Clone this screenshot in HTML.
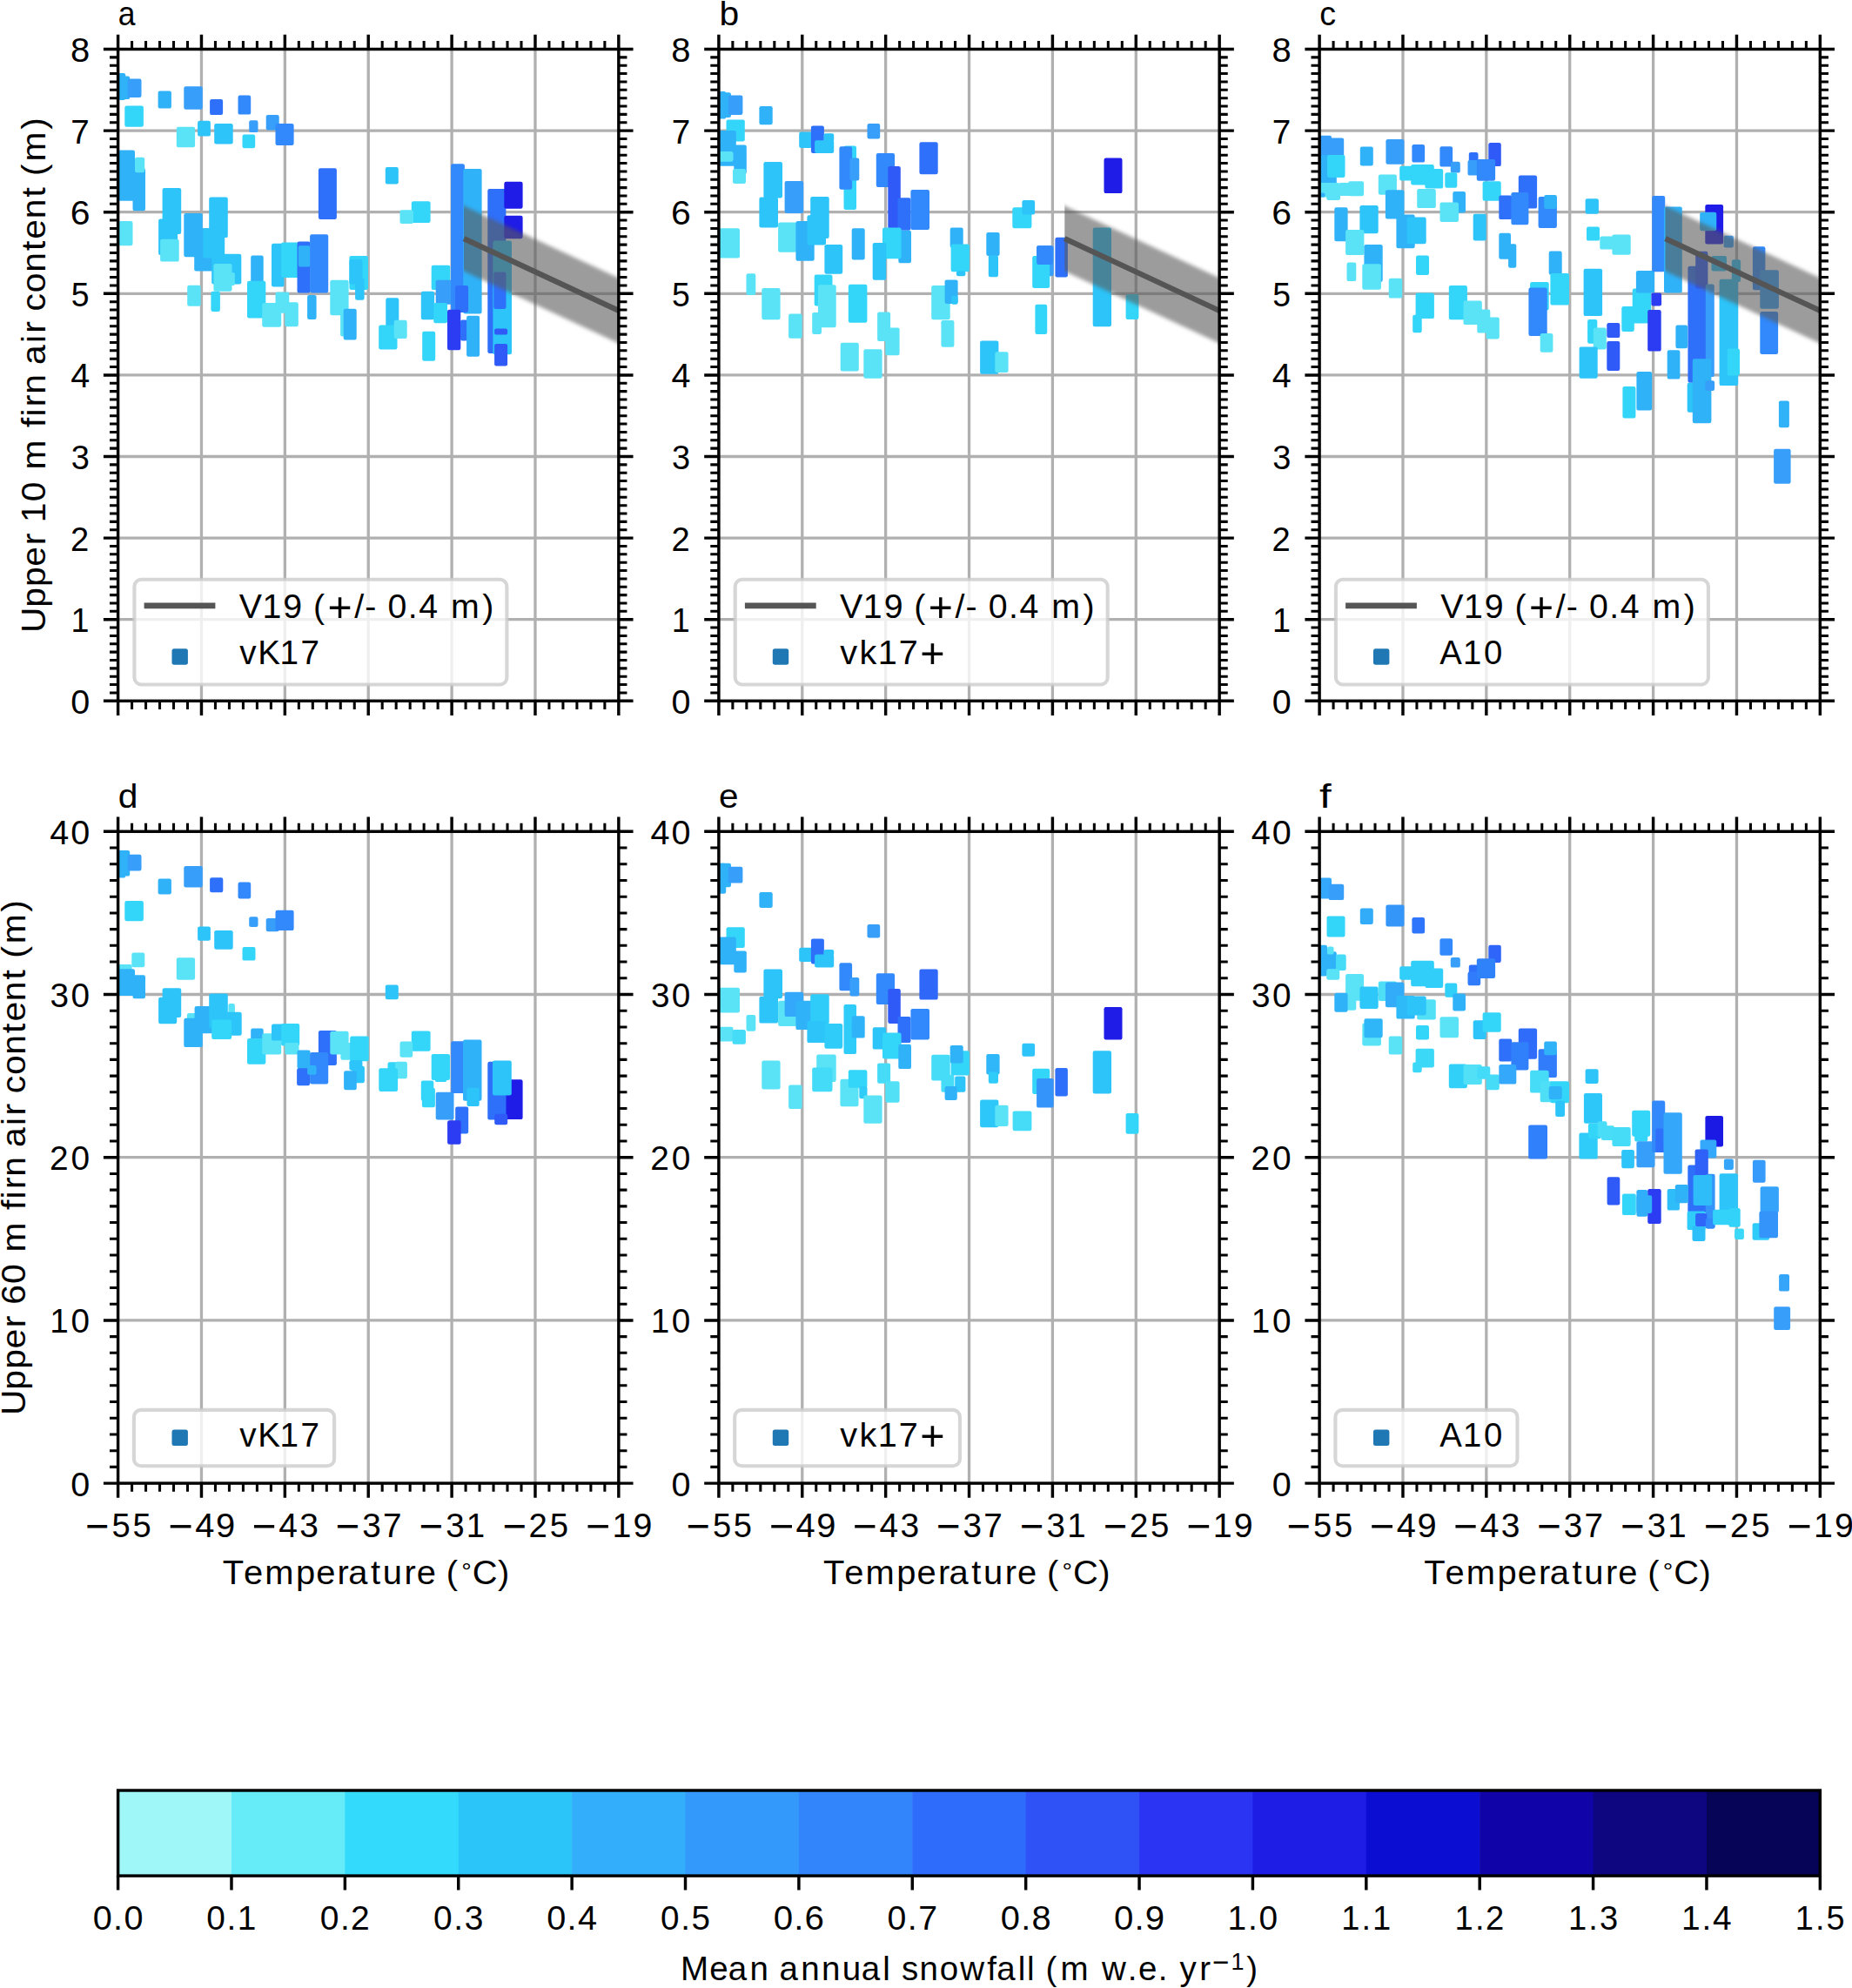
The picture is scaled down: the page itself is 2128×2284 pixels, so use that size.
<!DOCTYPE html>
<html><head><meta charset="utf-8"><title>Firn air content vs temperature</title>
<style>html,body{margin:0;padding:0;background:#fff}svg{display:block}text{font-family:"Liberation Sans", sans-serif;white-space:pre;font-kerning:none;font-variant-ligatures:none}</style>
</head><body>
<svg width="2128" height="2284" viewBox="0 0 2128 2284" font-family='"Liberation Sans", sans-serif' fill="#000">
<rect width="2128" height="2284" fill="#fff"/>
<defs><filter id="bl" x="-5%" y="-20%" width="110%" height="140%"><feGaussianBlur stdDeviation="2.2"/></filter>
<clipPath id="cpa"><rect x="135.60" y="56.50" width="575.25" height="748.80"/></clipPath>
<clipPath id="cpb"><rect x="825.90" y="56.50" width="575.25" height="748.80"/></clipPath>
<clipPath id="cpc"><rect x="1516.10" y="56.50" width="575.25" height="748.80"/></clipPath>
<clipPath id="cpd"><rect x="135.60" y="955.30" width="575.25" height="748.80"/></clipPath>
<clipPath id="cpe"><rect x="825.90" y="955.30" width="575.25" height="748.80"/></clipPath>
<clipPath id="cpf"><rect x="1516.10" y="955.30" width="575.25" height="748.80"/></clipPath>
</defs>
<g id="panel-a">
<path d="M231.47 56.50V805.30M327.35 56.50V805.30M423.23 56.50V805.30M519.10 56.50V805.30M614.98 56.50V805.30M135.60 711.70H710.85M135.60 618.10H710.85M135.60 524.50H710.85M135.60 430.90H710.85M135.60 337.30H710.85M135.60 243.70H710.85M135.60 150.10H710.85" stroke="#b0b0b0" stroke-width="3.3" fill="none"/>
<g clip-path="url(#cpa)">
<rect x="135.7" y="84.1" width="8.5" height="30.8" rx="2.2" fill="#30b2f9"/>
<rect x="135.7" y="87.5" width="13.5" height="26.6" rx="2.2" fill="#30b2f9"/>
<rect x="146.7" y="90.5" width="15.8" height="21.5" rx="2.2" fill="#379ffa"/>
<rect x="143.3" y="121.6" width="21.6" height="24.1" rx="2.2" fill="#33d5f9"/>
<rect x="181.6" y="104.5" width="15.3" height="20.1" rx="2.2" fill="#30b2f9"/>
<rect x="211.3" y="99.3" width="21.5" height="26.5" rx="2.2" fill="#379ffa"/>
<rect x="241.1" y="114.1" width="15.0" height="18.0" rx="2.2" fill="#2f70fb"/>
<rect x="273.5" y="109.6" width="14.7" height="22.0" rx="2.2" fill="#3189fb"/>
<rect x="305.7" y="131.9" width="15.0" height="17.5" rx="2.2" fill="#379ffa"/>
<rect x="316.5" y="141.9" width="21.1" height="25.0" rx="2.2" fill="#3189fb"/>
<rect x="286.2" y="138.3" width="10.3" height="13.8" rx="2.2" fill="#379ffa"/>
<rect x="227.1" y="138.8" width="14.8" height="17.8" rx="2.2" fill="#2cc4f9"/>
<rect x="246.2" y="142.1" width="21.5" height="23.3" rx="2.2" fill="#2cc4f9"/>
<rect x="202.8" y="145.7" width="21.3" height="23.6" rx="2.2" fill="#5ae3f6"/>
<rect x="278.5" y="154.6" width="14.7" height="15.7" rx="2.2" fill="#33d5f9"/>
<rect x="135.7" y="172.6" width="19.3" height="58.1" rx="2.2" fill="#30b2f9"/>
<rect x="152.5" y="193.2" width="14.5" height="49.1" rx="2.2" fill="#30b2f9"/>
<rect x="155.0" y="180.7" width="11.2" height="17.5" rx="2.2" fill="#5ae3f6"/>
<rect x="135.7" y="254.0" width="16.8" height="28.3" rx="2.2" fill="#5ae3f6"/>
<rect x="186.6" y="216.0" width="21.6" height="52.9" rx="2.2" fill="#2cc4f9"/>
<rect x="182.1" y="251.5" width="22.0" height="41.6" rx="2.2" fill="#2cc4f9"/>
<rect x="184.1" y="274.8" width="21.6" height="25.8" rx="2.2" fill="#5ae3f6"/>
<rect x="211.3" y="245.1" width="21.5" height="50.1" rx="2.2" fill="#30b2f9"/>
<rect x="240.2" y="226.5" width="21.6" height="46.6" rx="2.2" fill="#2cc4f9"/>
<rect x="223.2" y="262.3" width="21.6" height="49.1" rx="2.2" fill="#30b2f9"/>
<rect x="233.2" y="262.3" width="25.0" height="34.1" rx="2.2" fill="#2cc4f9"/>
<rect x="243.2" y="291.8" width="34.1" height="34.6" rx="2.2" fill="#2cc4f9"/>
<rect x="245.4" y="303.1" width="21.1" height="31.6" rx="2.2" fill="#5ae3f6"/>
<rect x="246.6" y="313.1" width="23.3" height="15.0" rx="2.2" fill="#5ae3f6"/>
<rect x="215.2" y="327.7" width="15.5" height="24.0" rx="2.2" fill="#5ae3f6"/>
<rect x="242.4" y="334.7" width="10.5" height="23.3" rx="2.2" fill="#33d5f9"/>
<rect x="288.2" y="293.6" width="14.5" height="39.5" rx="2.2" fill="#30b2f9"/>
<rect x="284.0" y="322.7" width="21.3" height="42.8" rx="2.2" fill="#33d5f9"/>
<rect x="301.2" y="348.0" width="22.0" height="27.8" rx="2.2" fill="#5ae3f6"/>
<rect x="316.5" y="335.6" width="15.8" height="24.1" rx="2.2" fill="#5ae3f6"/>
<rect x="327.3" y="347.2" width="15.5" height="28.0" rx="2.2" fill="#5ae3f6"/>
<rect x="312.0" y="279.8" width="14.5" height="49.6" rx="2.2" fill="#2cc4f9"/>
<rect x="323.1" y="278.6" width="21.6" height="40.3" rx="2.2" fill="#33d5f9"/>
<rect x="341.5" y="277.6" width="15.0" height="58.8" rx="2.2" fill="#2f70fb"/>
<rect x="342.8" y="282.3" width="13.7" height="24.1" rx="2.2" fill="#30b2f9"/>
<rect x="356.1" y="269.3" width="21.1" height="67.1" rx="2.2" fill="#3189fb"/>
<rect x="365.9" y="193.2" width="21.0" height="58.8" rx="2.2" fill="#2f70fb"/>
<rect x="353.1" y="338.9" width="10.5" height="28.0" rx="2.2" fill="#30b2f9"/>
<rect x="379.3" y="321.7" width="21.3" height="40.5" rx="2.2" fill="#5ae3f6"/>
<rect x="401.4" y="293.9" width="21.6" height="39.1" rx="2.2" fill="#33d5f9"/>
<rect x="401.4" y="298.1" width="15.0" height="28.3" rx="2.2" fill="#2cc4f9"/>
<rect x="408.1" y="319.7" width="10.5" height="25.0" rx="2.2" fill="#2cc4f9"/>
<rect x="391.1" y="356.4" width="15.3" height="30.0" rx="2.2" fill="#5ae3f6"/>
<rect x="394.7" y="354.7" width="15.0" height="35.8" rx="2.2" fill="#30b2f9"/>
<rect x="442.8" y="192.0" width="15.0" height="19.5" rx="2.2" fill="#2cc4f9"/>
<rect x="472.8" y="231.2" width="21.8" height="24.8" rx="2.2" fill="#33d5f9"/>
<rect x="459.5" y="241.2" width="15.5" height="15.8" rx="2.2" fill="#5ae3f6"/>
<rect x="495.7" y="304.8" width="21.6" height="28.3" rx="2.2" fill="#33d5f9"/>
<rect x="500.7" y="321.7" width="20.8" height="28.0" rx="2.2" fill="#379ffa"/>
<rect x="483.8" y="334.7" width="15.3" height="32.5" rx="2.2" fill="#2cc4f9"/>
<rect x="498.2" y="348.0" width="15.8" height="23.3" rx="2.2" fill="#33d5f9"/>
<rect x="443.3" y="342.2" width="15.0" height="34.1" rx="2.2" fill="#2cc4f9"/>
<rect x="435.2" y="373.5" width="21.3" height="28.0" rx="2.2" fill="#33d5f9"/>
<rect x="452.7" y="367.7" width="15.0" height="21.3" rx="2.2" fill="#5ae3f6"/>
<rect x="485.2" y="380.7" width="15.0" height="34.1" rx="2.2" fill="#33d5f9"/>
<rect x="518.1" y="188.2" width="15.8" height="168.3" rx="2.2" fill="#3189fb"/>
<rect x="532.3" y="194.1" width="21.3" height="166.3" rx="2.2" fill="#30b2f9"/>
<rect x="560.3" y="217.0" width="21.1" height="189.0" rx="2.2" fill="#2f70fb"/>
<rect x="566.4" y="276.6" width="21.6" height="130.7" rx="2.2" fill="#2cc4f9"/>
<rect x="567.3" y="312.4" width="14.2" height="42.5" rx="2.2" fill="#2f70fb"/>
<rect x="568.1" y="377.4" width="15.0" height="7.2" rx="2.2" fill="#2f5af7"/>
<rect x="568.1" y="394.9" width="15.0" height="25.5" rx="2.2" fill="#2f5af7"/>
<rect x="579.3" y="208.7" width="21.3" height="31.1" rx="2.2" fill="#1f1ce8"/>
<rect x="579.3" y="247.7" width="21.3" height="26.6" rx="2.2" fill="#1f1ce8"/>
<rect x="523.1" y="327.9" width="15.0" height="31.1" rx="2.2" fill="#2f70fb"/>
<rect x="514.0" y="355.7" width="15.3" height="46.6" rx="2.2" fill="#2b3cf3"/>
<rect x="529.0" y="367.4" width="8.3" height="24.1" rx="2.2" fill="#2f70fb"/>
<rect x="536.1" y="362.7" width="15.0" height="47.1" rx="2.2" fill="#30b2f9"/>
<clipPath id="bca"><rect x="533.00" y="56.50" width="177.85" height="748.80"/></clipPath>
<g clip-path="url(#bca)"><polygon points="513.00,227.30 718.85,323.16 718.85,398.16 513.00,302.30" fill="#5a5a5a" opacity="0.6" filter="url(#bl)"/></g>
<line x1="533.00" y1="274.12" x2="710.85" y2="356.96" stroke="#555" stroke-width="6.2"/>
</g>
<rect x="154.40" y="665.80" width="428.00" height="120.70" rx="8" fill="#fff" fill-opacity="0.8" stroke="#ccc" stroke-opacity="0.8" stroke-width="4.1"/>
<line x1="165.60" y1="695.90" x2="247.40" y2="695.90" stroke="#555" stroke-width="6.6"/>
<text transform="translate(275.00 709.70) scale(0.9975 1)" x="-0.29 26.51 50.51 73.56 85.29 101.83 132.54 144.57 157.91 170.85 194.26 206.72 229.65 243.60 279.99" y="0"><tspan font-size="39.40" dy="0.00">V19 (</tspan><tspan font-size="48.30" dy="4.30">+</tspan><tspan font-size="39.40" dy="-4.30">/- 0.4 m)</tspan></text>
<rect x="197.50" y="745.30" width="18.4" height="18.4" rx="2.5" fill="#1f77b4"/>
<text transform="translate(273.80 762.80) scale(0.9815 1)" x="1.46 22.88 48.66 73.08" y="0"><tspan font-size="39.40" dy="0.00">vK17</tspan></text>
<rect x="135.60" y="56.50" width="575.25" height="748.80" fill="none" stroke="#000" stroke-width="3.45"/>
<path d="M135.60 56.50v-16.7M135.60 805.30v16.7M231.47 56.50v-16.7M231.47 805.30v16.7M327.35 56.50v-16.7M327.35 805.30v16.7M423.23 56.50v-16.7M423.23 805.30v16.7M519.10 56.50v-16.7M519.10 805.30v16.7M614.98 56.50v-16.7M614.98 805.30v16.7M710.85 56.50v-16.7M710.85 805.30v16.7M135.60 805.30h-16.7M710.85 805.30h16.7M135.60 711.70h-16.7M710.85 711.70h16.7M135.60 618.10h-16.7M710.85 618.10h16.7M135.60 524.50h-16.7M710.85 524.50h16.7M135.60 430.90h-16.7M710.85 430.90h16.7M135.60 337.30h-16.7M710.85 337.30h16.7M135.60 243.70h-16.7M710.85 243.70h16.7M135.60 150.10h-16.7M710.85 150.10h16.7M135.60 56.50h-16.7M710.85 56.50h16.7" stroke="#000" stroke-width="3.45" fill="none"/>
<path d="M151.58 56.50v-9.6M151.58 805.30v9.6M167.56 56.50v-9.6M167.56 805.30v9.6M183.54 56.50v-9.6M183.54 805.30v9.6M199.52 56.50v-9.6M199.52 805.30v9.6M215.50 56.50v-9.6M215.50 805.30v9.6M247.45 56.50v-9.6M247.45 805.30v9.6M263.43 56.50v-9.6M263.43 805.30v9.6M279.41 56.50v-9.6M279.41 805.30v9.6M295.39 56.50v-9.6M295.39 805.30v9.6M311.37 56.50v-9.6M311.37 805.30v9.6M343.33 56.50v-9.6M343.33 805.30v9.6M359.31 56.50v-9.6M359.31 805.30v9.6M375.29 56.50v-9.6M375.29 805.30v9.6M391.27 56.50v-9.6M391.27 805.30v9.6M407.25 56.50v-9.6M407.25 805.30v9.6M439.20 56.50v-9.6M439.20 805.30v9.6M455.18 56.50v-9.6M455.18 805.30v9.6M471.16 56.50v-9.6M471.16 805.30v9.6M487.14 56.50v-9.6M487.14 805.30v9.6M503.12 56.50v-9.6M503.12 805.30v9.6M535.08 56.50v-9.6M535.08 805.30v9.6M551.06 56.50v-9.6M551.06 805.30v9.6M567.04 56.50v-9.6M567.04 805.30v9.6M583.02 56.50v-9.6M583.02 805.30v9.6M599.00 56.50v-9.6M599.00 805.30v9.6M630.95 56.50v-9.6M630.95 805.30v9.6M646.93 56.50v-9.6M646.93 805.30v9.6M662.91 56.50v-9.6M662.91 805.30v9.6M678.89 56.50v-9.6M678.89 805.30v9.6M694.87 56.50v-9.6M694.87 805.30v9.6M135.60 795.94h-9.6M710.85 795.94h9.6M135.60 786.58h-9.6M710.85 786.58h9.6M135.60 777.22h-9.6M710.85 777.22h9.6M135.60 767.86h-9.6M710.85 767.86h9.6M135.60 758.50h-9.6M710.85 758.50h9.6M135.60 749.14h-9.6M710.85 749.14h9.6M135.60 739.78h-9.6M710.85 739.78h9.6M135.60 730.42h-9.6M710.85 730.42h9.6M135.60 721.06h-9.6M710.85 721.06h9.6M135.60 702.34h-9.6M710.85 702.34h9.6M135.60 692.98h-9.6M710.85 692.98h9.6M135.60 683.62h-9.6M710.85 683.62h9.6M135.60 674.26h-9.6M710.85 674.26h9.6M135.60 664.90h-9.6M710.85 664.90h9.6M135.60 655.54h-9.6M710.85 655.54h9.6M135.60 646.18h-9.6M710.85 646.18h9.6M135.60 636.82h-9.6M710.85 636.82h9.6M135.60 627.46h-9.6M710.85 627.46h9.6M135.60 608.74h-9.6M710.85 608.74h9.6M135.60 599.38h-9.6M710.85 599.38h9.6M135.60 590.02h-9.6M710.85 590.02h9.6M135.60 580.66h-9.6M710.85 580.66h9.6M135.60 571.30h-9.6M710.85 571.30h9.6M135.60 561.94h-9.6M710.85 561.94h9.6M135.60 552.58h-9.6M710.85 552.58h9.6M135.60 543.22h-9.6M710.85 543.22h9.6M135.60 533.86h-9.6M710.85 533.86h9.6M135.60 515.14h-9.6M710.85 515.14h9.6M135.60 505.78h-9.6M710.85 505.78h9.6M135.60 496.42h-9.6M710.85 496.42h9.6M135.60 487.06h-9.6M710.85 487.06h9.6M135.60 477.70h-9.6M710.85 477.70h9.6M135.60 468.34h-9.6M710.85 468.34h9.6M135.60 458.98h-9.6M710.85 458.98h9.6M135.60 449.62h-9.6M710.85 449.62h9.6M135.60 440.26h-9.6M710.85 440.26h9.6M135.60 421.54h-9.6M710.85 421.54h9.6M135.60 412.18h-9.6M710.85 412.18h9.6M135.60 402.82h-9.6M710.85 402.82h9.6M135.60 393.46h-9.6M710.85 393.46h9.6M135.60 384.10h-9.6M710.85 384.10h9.6M135.60 374.74h-9.6M710.85 374.74h9.6M135.60 365.38h-9.6M710.85 365.38h9.6M135.60 356.02h-9.6M710.85 356.02h9.6M135.60 346.66h-9.6M710.85 346.66h9.6M135.60 327.94h-9.6M710.85 327.94h9.6M135.60 318.58h-9.6M710.85 318.58h9.6M135.60 309.22h-9.6M710.85 309.22h9.6M135.60 299.86h-9.6M710.85 299.86h9.6M135.60 290.50h-9.6M710.85 290.50h9.6M135.60 281.14h-9.6M710.85 281.14h9.6M135.60 271.78h-9.6M710.85 271.78h9.6M135.60 262.42h-9.6M710.85 262.42h9.6M135.60 253.06h-9.6M710.85 253.06h9.6M135.60 234.34h-9.6M710.85 234.34h9.6M135.60 224.98h-9.6M710.85 224.98h9.6M135.60 215.62h-9.6M710.85 215.62h9.6M135.60 206.26h-9.6M710.85 206.26h9.6M135.60 196.90h-9.6M710.85 196.90h9.6M135.60 187.54h-9.6M710.85 187.54h9.6M135.60 178.18h-9.6M710.85 178.18h9.6M135.60 168.82h-9.6M710.85 168.82h9.6M135.60 159.46h-9.6M710.85 159.46h9.6M135.60 140.74h-9.6M710.85 140.74h9.6M135.60 131.38h-9.6M710.85 131.38h9.6M135.60 122.02h-9.6M710.85 122.02h9.6M135.60 112.66h-9.6M710.85 112.66h9.6M135.60 103.30h-9.6M710.85 103.30h9.6M135.60 93.94h-9.6M710.85 93.94h9.6M135.60 84.58h-9.6M710.85 84.58h9.6M135.60 75.22h-9.6M710.85 75.22h9.6M135.60 65.86h-9.6M710.85 65.86h9.6" stroke="#000" stroke-width="3.05" fill="none"/>
<text transform="translate(104.10 819.80) scale(1.0033 1)" x="-22.86" y="0"><tspan font-size="39.40" dy="0.00">0</tspan></text>
<text transform="translate(104.10 726.20) scale(0.9582 1)" x="-23.60" y="0"><tspan font-size="39.40" dy="0.00">1</tspan></text>
<text transform="translate(104.10 632.60) scale(0.9671 1)" x="-23.81" y="0"><tspan font-size="39.40" dy="0.00">2</tspan></text>
<text transform="translate(104.10 539.00) scale(0.9635 1)" x="-23.30" y="0"><tspan font-size="39.40" dy="0.00">3</tspan></text>
<text transform="translate(104.10 445.40) scale(1.0034 1)" x="-22.86" y="0"><tspan font-size="39.40" dy="0.00">4</tspan></text>
<text transform="translate(104.10 351.80) scale(0.9469 1)" x="-23.72" y="0"><tspan font-size="39.40" dy="0.00">5</tspan></text>
<text transform="translate(104.10 258.20) scale(1.0384 1)" x="-22.46" y="0"><tspan font-size="39.40" dy="0.00">6</tspan></text>
<text transform="translate(104.10 164.60) scale(0.9814 1)" x="-23.20" y="0"><tspan font-size="39.40" dy="0.00">7</tspan></text>
<text transform="translate(104.10 71.00) scale(1.0142 1)" x="-22.73" y="0"><tspan font-size="39.40" dy="0.00">8</tspan></text>
<text transform="translate(135.40 28.90) scale(0.9000 1)" x="0.33" y="0"><tspan font-size="39.40" dy="0.00">a</tspan></text>
</g>
<g id="panel-b">
<path d="M921.77 56.50V805.30M1017.65 56.50V805.30M1113.53 56.50V805.30M1209.40 56.50V805.30M1305.28 56.50V805.30M825.90 711.70H1401.15M825.90 618.10H1401.15M825.90 524.50H1401.15M825.90 430.90H1401.15M825.90 337.30H1401.15M825.90 243.70H1401.15M825.90 150.10H1401.15" stroke="#b0b0b0" stroke-width="3.3" fill="none"/>
<g clip-path="url(#cpb)">
<rect x="826.0" y="105.0" width="8.2" height="31.6" rx="2.2" fill="#30b2f9"/>
<rect x="826.0" y="106.3" width="14.0" height="28.6" rx="2.2" fill="#30b2f9"/>
<rect x="836.7" y="109.5" width="16.7" height="22.5" rx="2.2" fill="#379ffa"/>
<rect x="872.4" y="122.1" width="15.3" height="21.1" rx="2.2" fill="#30b2f9"/>
<rect x="834.5" y="137.4" width="21.3" height="25.0" rx="2.2" fill="#33d5f9"/>
<rect x="826.0" y="149.9" width="19.8" height="40.8" rx="2.2" fill="#30b2f9"/>
<rect x="843.3" y="166.6" width="14.5" height="33.3" rx="2.2" fill="#30b2f9"/>
<rect x="826.0" y="174.1" width="16.5" height="11.7" rx="2.2" fill="#5ae3f6"/>
<rect x="842.0" y="194.0" width="15.0" height="17.0" rx="2.2" fill="#5ae3f6"/>
<rect x="826.0" y="262.3" width="24.0" height="34.1" rx="2.2" fill="#5ae3f6"/>
<rect x="857.5" y="314.3" width="10.8" height="24.6" rx="2.2" fill="#5ae3f6"/>
<rect x="875.3" y="331.1" width="21.3" height="36.1" rx="2.2" fill="#5ae3f6"/>
<rect x="877.4" y="186.1" width="21.6" height="41.3" rx="2.2" fill="#2cc4f9"/>
<rect x="872.4" y="226.5" width="21.6" height="35.0" rx="2.2" fill="#2cc4f9"/>
<rect x="901.6" y="207.9" width="21.6" height="37.0" rx="2.2" fill="#379ffa"/>
<rect x="894.1" y="255.6" width="21.6" height="34.1" rx="2.2" fill="#5ae3f6"/>
<rect x="914.4" y="254.0" width="21.3" height="45.8" rx="2.2" fill="#30b2f9"/>
<rect x="931.2" y="226.0" width="21.5" height="48.0" rx="2.2" fill="#2cc4f9"/>
<rect x="927.4" y="247.3" width="21.6" height="34.1" rx="2.2" fill="#2cc4f9"/>
<rect x="947.4" y="281.1" width="20.8" height="33.6" rx="2.2" fill="#2cc4f9"/>
<rect x="918.2" y="151.6" width="15.0" height="18.3" rx="2.2" fill="#2cc4f9"/>
<rect x="931.9" y="144.4" width="15.0" height="31.6" rx="2.2" fill="#2f70fb"/>
<rect x="936.1" y="161.2" width="22.1" height="14.8" rx="2.2" fill="#2cc4f9"/>
<rect x="946.5" y="153.3" width="11.7" height="10.0" rx="2.2" fill="#2cc4f9"/>
<rect x="996.5" y="141.9" width="14.7" height="17.5" rx="2.2" fill="#379ffa"/>
<rect x="969.5" y="167.4" width="14.5" height="73.6" rx="2.2" fill="#33d5f9"/>
<rect x="964.4" y="168.2" width="14.7" height="49.5" rx="2.2" fill="#3189fb"/>
<rect x="976.5" y="181.6" width="10.8" height="25.8" rx="2.2" fill="#379ffa"/>
<rect x="1006.8" y="176.1" width="21.3" height="38.8" rx="2.2" fill="#3189fb"/>
<rect x="1020.3" y="191.0" width="14.5" height="72.1" rx="2.2" fill="#2f5af7"/>
<rect x="1031.5" y="227.3" width="15.0" height="37.5" rx="2.2" fill="#2f70fb"/>
<rect x="1046.4" y="217.9" width="21.6" height="46.1" rx="2.2" fill="#3189fb"/>
<rect x="1056.4" y="163.2" width="21.3" height="37.0" rx="2.2" fill="#2f70fb"/>
<rect x="978.7" y="262.3" width="15.0" height="36.1" rx="2.2" fill="#30b2f9"/>
<rect x="1032.3" y="264.8" width="14.7" height="37.5" rx="2.2" fill="#30b2f9"/>
<rect x="1014.0" y="261.5" width="21.6" height="35.8" rx="2.2" fill="#33d5f9"/>
<rect x="1002.7" y="279.0" width="15.5" height="42.8" rx="2.2" fill="#2cc4f9"/>
<rect x="1091.7" y="261.5" width="15.0" height="23.3" rx="2.2" fill="#30b2f9"/>
<rect x="1092.6" y="280.6" width="21.3" height="31.6" rx="2.2" fill="#33d5f9"/>
<rect x="1098.9" y="311.4" width="10.5" height="5.8" rx="2.2" fill="#2cc4f9"/>
<rect x="935.7" y="315.6" width="20.8" height="35.8" rx="2.2" fill="#33d5f9"/>
<rect x="939.9" y="327.2" width="20.8" height="49.1" rx="2.2" fill="#5ae3f6"/>
<rect x="933.2" y="358.9" width="10.8" height="25.0" rx="2.2" fill="#5ae3f6"/>
<rect x="906.1" y="360.5" width="15.5" height="28.3" rx="2.2" fill="#5ae3f6"/>
<rect x="974.8" y="326.7" width="21.6" height="44.1" rx="2.2" fill="#33d5f9"/>
<rect x="1008.1" y="358.5" width="15.0" height="33.6" rx="2.2" fill="#5ae3f6"/>
<rect x="1017.3" y="376.4" width="16.3" height="31.8" rx="2.2" fill="#5ae3f6"/>
<rect x="1070.2" y="328.1" width="21.5" height="39.1" rx="2.2" fill="#5ae3f6"/>
<rect x="1085.6" y="321.4" width="15.0" height="27.5" rx="2.2" fill="#30b2f9"/>
<rect x="1093.1" y="339.7" width="7.5" height="10.0" rx="2.2" fill="#2cc4f9"/>
<rect x="1081.4" y="368.0" width="15.0" height="30.8" rx="2.2" fill="#5ae3f6"/>
<rect x="1268.5" y="181.6" width="21.0" height="40.5" rx="2.2" fill="#1f1ce8"/>
<rect x="1163.3" y="238.2" width="22.1" height="24.1" rx="2.2" fill="#33d5f9"/>
<rect x="1174.4" y="229.9" width="14.7" height="16.7" rx="2.2" fill="#2cc4f9"/>
<rect x="1133.3" y="266.9" width="15.3" height="27.1" rx="2.2" fill="#30b2f9"/>
<rect x="1135.8" y="293.2" width="11.2" height="25.0" rx="2.2" fill="#2cc4f9"/>
<rect x="1191.1" y="282.3" width="19.6" height="35.0" rx="2.2" fill="#379ffa"/>
<rect x="1186.2" y="294.0" width="20.0" height="37.0" rx="2.2" fill="#33d5f9"/>
<rect x="1191.1" y="282.3" width="18.8" height="21.6" rx="2.2" fill="#3189fb"/>
<rect x="1212.4" y="272.7" width="14.5" height="45.8" rx="2.2" fill="#2f70fb"/>
<rect x="1255.7" y="261.5" width="21.3" height="113.7" rx="2.2" fill="#2cc4f9"/>
<rect x="1293.6" y="338.1" width="14.8" height="28.8" rx="2.2" fill="#33d5f9"/>
<rect x="1189.4" y="349.8" width="13.8" height="34.1" rx="2.2" fill="#33d5f9"/>
<rect x="1126.1" y="391.4" width="21.3" height="38.3" rx="2.2" fill="#2cc4f9"/>
<rect x="1143.3" y="404.2" width="15.3" height="23.8" rx="2.2" fill="#5ae3f6"/>
<rect x="965.7" y="393.7" width="21.1" height="32.8" rx="2.2" fill="#5ae3f6"/>
<rect x="992.3" y="401.2" width="21.3" height="33.6" rx="2.2" fill="#5ae3f6"/>
<clipPath id="bcb"><rect x="1223.30" y="56.50" width="177.85" height="748.80"/></clipPath>
<g clip-path="url(#bcb)"><polygon points="1203.30,227.30 1409.15,323.16 1409.15,398.16 1203.30,302.30" fill="#5a5a5a" opacity="0.6" filter="url(#bl)"/></g>
<line x1="1223.30" y1="274.12" x2="1401.15" y2="356.96" stroke="#555" stroke-width="6.2"/>
</g>
<rect x="844.70" y="665.80" width="428.00" height="120.70" rx="8" fill="#fff" fill-opacity="0.8" stroke="#ccc" stroke-opacity="0.8" stroke-width="4.1"/>
<line x1="855.90" y1="695.90" x2="937.70" y2="695.90" stroke="#555" stroke-width="6.6"/>
<text transform="translate(965.30 709.70) scale(0.9975 1)" x="-0.29 26.51 50.51 73.56 85.29 101.83 132.54 144.57 157.91 170.85 194.26 206.72 229.65 243.60 279.99" y="0"><tspan font-size="39.40" dy="0.00">V19 (</tspan><tspan font-size="48.30" dy="4.30">+</tspan><tspan font-size="39.40" dy="-4.30">/- 0.4 m)</tspan></text>
<rect x="887.80" y="745.30" width="18.4" height="18.4" rx="2.5" fill="#1f77b4"/>
<text transform="translate(964.10 762.80) scale(1.0062 1)" x="1.18 23.28 44.33 68.16 92.58" y="0"><tspan font-size="39.40" dy="0.00">vk17</tspan><tspan font-size="48.30" dy="4.30">+</tspan></text>
<rect x="825.90" y="56.50" width="575.25" height="748.80" fill="none" stroke="#000" stroke-width="3.45"/>
<path d="M825.90 56.50v-16.7M825.90 805.30v16.7M921.77 56.50v-16.7M921.77 805.30v16.7M1017.65 56.50v-16.7M1017.65 805.30v16.7M1113.53 56.50v-16.7M1113.53 805.30v16.7M1209.40 56.50v-16.7M1209.40 805.30v16.7M1305.28 56.50v-16.7M1305.28 805.30v16.7M1401.15 56.50v-16.7M1401.15 805.30v16.7M825.90 805.30h-16.7M1401.15 805.30h16.7M825.90 711.70h-16.7M1401.15 711.70h16.7M825.90 618.10h-16.7M1401.15 618.10h16.7M825.90 524.50h-16.7M1401.15 524.50h16.7M825.90 430.90h-16.7M1401.15 430.90h16.7M825.90 337.30h-16.7M1401.15 337.30h16.7M825.90 243.70h-16.7M1401.15 243.70h16.7M825.90 150.10h-16.7M1401.15 150.10h16.7M825.90 56.50h-16.7M1401.15 56.50h16.7" stroke="#000" stroke-width="3.45" fill="none"/>
<path d="M841.88 56.50v-9.6M841.88 805.30v9.6M857.86 56.50v-9.6M857.86 805.30v9.6M873.84 56.50v-9.6M873.84 805.30v9.6M889.82 56.50v-9.6M889.82 805.30v9.6M905.80 56.50v-9.6M905.80 805.30v9.6M937.75 56.50v-9.6M937.75 805.30v9.6M953.73 56.50v-9.6M953.73 805.30v9.6M969.71 56.50v-9.6M969.71 805.30v9.6M985.69 56.50v-9.6M985.69 805.30v9.6M1001.67 56.50v-9.6M1001.67 805.30v9.6M1033.63 56.50v-9.6M1033.63 805.30v9.6M1049.61 56.50v-9.6M1049.61 805.30v9.6M1065.59 56.50v-9.6M1065.59 805.30v9.6M1081.57 56.50v-9.6M1081.57 805.30v9.6M1097.55 56.50v-9.6M1097.55 805.30v9.6M1129.50 56.50v-9.6M1129.50 805.30v9.6M1145.48 56.50v-9.6M1145.48 805.30v9.6M1161.46 56.50v-9.6M1161.46 805.30v9.6M1177.44 56.50v-9.6M1177.44 805.30v9.6M1193.42 56.50v-9.6M1193.42 805.30v9.6M1225.38 56.50v-9.6M1225.38 805.30v9.6M1241.36 56.50v-9.6M1241.36 805.30v9.6M1257.34 56.50v-9.6M1257.34 805.30v9.6M1273.32 56.50v-9.6M1273.32 805.30v9.6M1289.30 56.50v-9.6M1289.30 805.30v9.6M1321.25 56.50v-9.6M1321.25 805.30v9.6M1337.23 56.50v-9.6M1337.23 805.30v9.6M1353.21 56.50v-9.6M1353.21 805.30v9.6M1369.19 56.50v-9.6M1369.19 805.30v9.6M1385.17 56.50v-9.6M1385.17 805.30v9.6M825.90 795.94h-9.6M1401.15 795.94h9.6M825.90 786.58h-9.6M1401.15 786.58h9.6M825.90 777.22h-9.6M1401.15 777.22h9.6M825.90 767.86h-9.6M1401.15 767.86h9.6M825.90 758.50h-9.6M1401.15 758.50h9.6M825.90 749.14h-9.6M1401.15 749.14h9.6M825.90 739.78h-9.6M1401.15 739.78h9.6M825.90 730.42h-9.6M1401.15 730.42h9.6M825.90 721.06h-9.6M1401.15 721.06h9.6M825.90 702.34h-9.6M1401.15 702.34h9.6M825.90 692.98h-9.6M1401.15 692.98h9.6M825.90 683.62h-9.6M1401.15 683.62h9.6M825.90 674.26h-9.6M1401.15 674.26h9.6M825.90 664.90h-9.6M1401.15 664.90h9.6M825.90 655.54h-9.6M1401.15 655.54h9.6M825.90 646.18h-9.6M1401.15 646.18h9.6M825.90 636.82h-9.6M1401.15 636.82h9.6M825.90 627.46h-9.6M1401.15 627.46h9.6M825.90 608.74h-9.6M1401.15 608.74h9.6M825.90 599.38h-9.6M1401.15 599.38h9.6M825.90 590.02h-9.6M1401.15 590.02h9.6M825.90 580.66h-9.6M1401.15 580.66h9.6M825.90 571.30h-9.6M1401.15 571.30h9.6M825.90 561.94h-9.6M1401.15 561.94h9.6M825.90 552.58h-9.6M1401.15 552.58h9.6M825.90 543.22h-9.6M1401.15 543.22h9.6M825.90 533.86h-9.6M1401.15 533.86h9.6M825.90 515.14h-9.6M1401.15 515.14h9.6M825.90 505.78h-9.6M1401.15 505.78h9.6M825.90 496.42h-9.6M1401.15 496.42h9.6M825.90 487.06h-9.6M1401.15 487.06h9.6M825.90 477.70h-9.6M1401.15 477.70h9.6M825.90 468.34h-9.6M1401.15 468.34h9.6M825.90 458.98h-9.6M1401.15 458.98h9.6M825.90 449.62h-9.6M1401.15 449.62h9.6M825.90 440.26h-9.6M1401.15 440.26h9.6M825.90 421.54h-9.6M1401.15 421.54h9.6M825.90 412.18h-9.6M1401.15 412.18h9.6M825.90 402.82h-9.6M1401.15 402.82h9.6M825.90 393.46h-9.6M1401.15 393.46h9.6M825.90 384.10h-9.6M1401.15 384.10h9.6M825.90 374.74h-9.6M1401.15 374.74h9.6M825.90 365.38h-9.6M1401.15 365.38h9.6M825.90 356.02h-9.6M1401.15 356.02h9.6M825.90 346.66h-9.6M1401.15 346.66h9.6M825.90 327.94h-9.6M1401.15 327.94h9.6M825.90 318.58h-9.6M1401.15 318.58h9.6M825.90 309.22h-9.6M1401.15 309.22h9.6M825.90 299.86h-9.6M1401.15 299.86h9.6M825.90 290.50h-9.6M1401.15 290.50h9.6M825.90 281.14h-9.6M1401.15 281.14h9.6M825.90 271.78h-9.6M1401.15 271.78h9.6M825.90 262.42h-9.6M1401.15 262.42h9.6M825.90 253.06h-9.6M1401.15 253.06h9.6M825.90 234.34h-9.6M1401.15 234.34h9.6M825.90 224.98h-9.6M1401.15 224.98h9.6M825.90 215.62h-9.6M1401.15 215.62h9.6M825.90 206.26h-9.6M1401.15 206.26h9.6M825.90 196.90h-9.6M1401.15 196.90h9.6M825.90 187.54h-9.6M1401.15 187.54h9.6M825.90 178.18h-9.6M1401.15 178.18h9.6M825.90 168.82h-9.6M1401.15 168.82h9.6M825.90 159.46h-9.6M1401.15 159.46h9.6M825.90 140.74h-9.6M1401.15 140.74h9.6M825.90 131.38h-9.6M1401.15 131.38h9.6M825.90 122.02h-9.6M1401.15 122.02h9.6M825.90 112.66h-9.6M1401.15 112.66h9.6M825.90 103.30h-9.6M1401.15 103.30h9.6M825.90 93.94h-9.6M1401.15 93.94h9.6M825.90 84.58h-9.6M1401.15 84.58h9.6M825.90 75.22h-9.6M1401.15 75.22h9.6M825.90 65.86h-9.6M1401.15 65.86h9.6" stroke="#000" stroke-width="3.05" fill="none"/>
<text transform="translate(794.40 819.80) scale(1.0033 1)" x="-22.86" y="0"><tspan font-size="39.40" dy="0.00">0</tspan></text>
<text transform="translate(794.40 726.20) scale(0.9582 1)" x="-23.60" y="0"><tspan font-size="39.40" dy="0.00">1</tspan></text>
<text transform="translate(794.40 632.60) scale(0.9671 1)" x="-23.81" y="0"><tspan font-size="39.40" dy="0.00">2</tspan></text>
<text transform="translate(794.40 539.00) scale(0.9635 1)" x="-23.30" y="0"><tspan font-size="39.40" dy="0.00">3</tspan></text>
<text transform="translate(794.40 445.40) scale(1.0034 1)" x="-22.86" y="0"><tspan font-size="39.40" dy="0.00">4</tspan></text>
<text transform="translate(794.40 351.80) scale(0.9469 1)" x="-23.72" y="0"><tspan font-size="39.40" dy="0.00">5</tspan></text>
<text transform="translate(794.40 258.20) scale(1.0384 1)" x="-22.46" y="0"><tspan font-size="39.40" dy="0.00">6</tspan></text>
<text transform="translate(794.40 164.60) scale(0.9814 1)" x="-23.20" y="0"><tspan font-size="39.40" dy="0.00">7</tspan></text>
<text transform="translate(794.40 71.00) scale(1.0142 1)" x="-22.73" y="0"><tspan font-size="39.40" dy="0.00">8</tspan></text>
<text transform="translate(825.70 28.90) scale(1.0355 1)" x="0.75" y="0"><tspan font-size="39.40" dy="0.00">b</tspan></text>
</g>
<g id="panel-c">
<path d="M1611.97 56.50V805.30M1707.85 56.50V805.30M1803.72 56.50V805.30M1899.60 56.50V805.30M1995.47 56.50V805.30M1516.10 711.70H2091.35M1516.10 618.10H2091.35M1516.10 524.50H2091.35M1516.10 430.90H2091.35M1516.10 337.30H2091.35M1516.10 243.70H2091.35M1516.10 150.10H2091.35" stroke="#b0b0b0" stroke-width="3.3" fill="none"/>
<g clip-path="url(#cpc)">
<rect x="1516.0" y="155.8" width="14.0" height="30.8" rx="2.2" fill="#379ffa"/>
<rect x="1526.7" y="158.6" width="17.5" height="31.3" rx="2.2" fill="#379ffa"/>
<rect x="1516.0" y="178.3" width="19.8" height="33.3" rx="2.2" fill="#30b2f9"/>
<rect x="1525.0" y="177.9" width="20.5" height="26.1" rx="2.2" fill="#33d5f9"/>
<rect x="1516.0" y="209.9" width="23.1" height="16.7" rx="2.2" fill="#5ae3f6"/>
<rect x="1524.2" y="213.2" width="15.8" height="16.7" rx="2.2" fill="#5ae3f6"/>
<rect x="1538.3" y="209.9" width="15.0" height="15.0" rx="2.2" fill="#5ae3f6"/>
<rect x="1549.1" y="208.2" width="18.0" height="17.1" rx="2.2" fill="#5ae3f6"/>
<rect x="1516.0" y="221.6" width="6.5" height="5.0" rx="2.2" fill="#30b2f9"/>
<rect x="1562.8" y="168.6" width="15.0" height="21.8" rx="2.2" fill="#30b2f9"/>
<rect x="1592.4" y="160.0" width="21.1" height="28.8" rx="2.2" fill="#379ffa"/>
<rect x="1622.4" y="166.1" width="14.7" height="20.5" rx="2.2" fill="#3189fb"/>
<rect x="1654.4" y="168.3" width="14.7" height="23.3" rx="2.2" fill="#3189fb"/>
<rect x="1666.8" y="185.8" width="11.0" height="12.8" rx="2.2" fill="#379ffa"/>
<rect x="1687.8" y="174.9" width="10.7" height="16.7" rx="2.2" fill="#2f70fb"/>
<rect x="1710.3" y="164.1" width="14.5" height="27.0" rx="2.2" fill="#2f5af7"/>
<rect x="1686.5" y="184.1" width="15.0" height="17.5" rx="2.2" fill="#379ffa"/>
<rect x="1696.8" y="182.9" width="21.3" height="24.8" rx="2.2" fill="#3189fb"/>
<rect x="1608.2" y="190.8" width="21.6" height="16.7" rx="2.2" fill="#33d5f9"/>
<rect x="1621.2" y="189.1" width="26.6" height="23.3" rx="2.2" fill="#33d5f9"/>
<rect x="1637.4" y="194.1" width="20.8" height="22.5" rx="2.2" fill="#33d5f9"/>
<rect x="1660.3" y="198.3" width="14.0" height="17.5" rx="2.2" fill="#33d5f9"/>
<rect x="1583.8" y="200.4" width="21.1" height="23.3" rx="2.2" fill="#5ae3f6"/>
<rect x="1628.2" y="217.1" width="21.6" height="22.0" rx="2.2" fill="#5ae3f6"/>
<rect x="1669.3" y="219.9" width="14.7" height="24.5" rx="2.2" fill="#30b2f9"/>
<rect x="1654.5" y="232.4" width="21.5" height="22.5" rx="2.2" fill="#5ae3f6"/>
<rect x="1703.6" y="208.2" width="21.1" height="22.5" rx="2.2" fill="#33d5f9"/>
<rect x="1591.9" y="218.2" width="21.6" height="33.3" rx="2.2" fill="#30b2f9"/>
<rect x="1533.3" y="238.2" width="15.3" height="39.1" rx="2.2" fill="#30b2f9"/>
<rect x="1562.4" y="236.1" width="21.3" height="32.1" rx="2.2" fill="#2cc4f9"/>
<rect x="1546.1" y="264.0" width="21.3" height="29.1" rx="2.2" fill="#5ae3f6"/>
<rect x="1567.4" y="281.0" width="21.3" height="43.0" rx="2.2" fill="#30b2f9"/>
<rect x="1565.3" y="303.2" width="21.6" height="29.5" rx="2.2" fill="#5ae3f6"/>
<rect x="1547.5" y="301.5" width="10.8" height="21.6" rx="2.2" fill="#5ae3f6"/>
<rect x="1604.4" y="246.5" width="21.3" height="38.8" rx="2.2" fill="#30b2f9"/>
<rect x="1616.6" y="249.5" width="22.1" height="30.8" rx="2.2" fill="#2cc4f9"/>
<rect x="1627.0" y="293.5" width="15.0" height="22.5" rx="2.2" fill="#33d5f9"/>
<rect x="1595.7" y="319.8" width="15.5" height="22.8" rx="2.2" fill="#5ae3f6"/>
<rect x="1692.7" y="245.7" width="15.0" height="30.8" rx="2.2" fill="#2cc4f9"/>
<rect x="1722.3" y="224.6" width="15.0" height="27.5" rx="2.2" fill="#2f70fb"/>
<rect x="1744.8" y="201.6" width="21.3" height="38.0" rx="2.2" fill="#2f70fb"/>
<rect x="1736.4" y="221.1" width="20.0" height="37.1" rx="2.2" fill="#3189fb"/>
<rect x="1767.6" y="226.1" width="21.3" height="35.8" rx="2.2" fill="#3189fb"/>
<rect x="1774.2" y="224.1" width="14.7" height="15.8" rx="2.2" fill="#30b2f9"/>
<rect x="1722.3" y="267.7" width="13.7" height="30.1" rx="2.2" fill="#30b2f9"/>
<rect x="1733.1" y="280.2" width="9.2" height="27.6" rx="2.2" fill="#30b2f9"/>
<rect x="1779.7" y="288.5" width="15.0" height="27.1" rx="2.2" fill="#30b2f9"/>
<rect x="1781.4" y="314.0" width="21.6" height="36.6" rx="2.2" fill="#33d5f9"/>
<rect x="1758.1" y="324.0" width="21.6" height="32.5" rx="2.2" fill="#33d5f9"/>
<rect x="1756.4" y="330.6" width="21.3" height="55.3" rx="2.2" fill="#3189fb"/>
<rect x="1769.7" y="383.1" width="14.7" height="21.6" rx="2.2" fill="#5ae3f6"/>
<rect x="1626.6" y="336.5" width="21.3" height="29.6" rx="2.2" fill="#33d5f9"/>
<rect x="1623.2" y="361.8" width="10.5" height="20.5" rx="2.2" fill="#33d5f9"/>
<rect x="1664.8" y="328.1" width="21.1" height="39.1" rx="2.2" fill="#33d5f9"/>
<rect x="1681.5" y="345.6" width="21.3" height="27.5" rx="2.2" fill="#5ae3f6"/>
<rect x="1697.3" y="355.6" width="15.0" height="27.0" rx="2.2" fill="#5ae3f6"/>
<rect x="1707.6" y="364.4" width="15.2" height="25.0" rx="2.2" fill="#5ae3f6"/>
<rect x="1821.6" y="228.3" width="15.3" height="17.5" rx="2.2" fill="#2cc4f9"/>
<rect x="1823.0" y="260.4" width="15.0" height="16.2" rx="2.2" fill="#33d5f9"/>
<rect x="1838.3" y="271.6" width="16.7" height="15.0" rx="2.2" fill="#5ae3f6"/>
<rect x="1852.4" y="269.6" width="21.3" height="23.1" rx="2.2" fill="#5ae3f6"/>
<rect x="1819.6" y="308.7" width="21.5" height="54.4" rx="2.2" fill="#2cc4f9"/>
<rect x="1824.1" y="367.0" width="11.2" height="27.8" rx="2.2" fill="#33d5f9"/>
<rect x="1830.8" y="376.5" width="15.0" height="25.0" rx="2.2" fill="#5ae3f6"/>
<rect x="1814.6" y="398.4" width="21.1" height="36.3" rx="2.2" fill="#2cc4f9"/>
<rect x="1846.3" y="371.0" width="15.0" height="17.1" rx="2.2" fill="#2f5af7"/>
<rect x="1846.3" y="391.9" width="15.0" height="34.0" rx="2.2" fill="#2f5af7"/>
<rect x="1875.7" y="331.5" width="21.6" height="40.0" rx="2.2" fill="#33d5f9"/>
<rect x="1879.9" y="311.0" width="21.1" height="25.5" rx="2.2" fill="#30b2f9"/>
<rect x="1863.3" y="352.0" width="14.5" height="29.0" rx="2.2" fill="#33d5f9"/>
<rect x="1897.4" y="336.5" width="11.7" height="15.0" rx="2.2" fill="#2b3cf3"/>
<rect x="1893.2" y="356.0" width="15.5" height="47.6" rx="2.2" fill="#2b3cf3"/>
<rect x="1898.2" y="224.9" width="15.0" height="87.4" rx="2.2" fill="#3189fb"/>
<rect x="1912.0" y="237.4" width="20.8" height="99.1" rx="2.2" fill="#30b2f9"/>
<rect x="1959.3" y="234.9" width="20.8" height="45.5" rx="2.2" fill="#1f1ce8"/>
<rect x="1953.2" y="243.7" width="19.1" height="21.6" rx="2.2" fill="#30b2f9"/>
<rect x="1980.6" y="270.7" width="11.3" height="13.7" rx="2.2" fill="#379ffa"/>
<rect x="1939.4" y="305.7" width="21.3" height="134.0" rx="2.2" fill="#2f70fb"/>
<rect x="1948.2" y="288.7" width="14.2" height="42.8" rx="2.2" fill="#2f5af7"/>
<rect x="1959.8" y="326.5" width="10.0" height="106.6" rx="2.2" fill="#379ffa"/>
<rect x="1966.5" y="294.0" width="17.5" height="17.5" rx="2.2" fill="#2cc4f9"/>
<rect x="1989.8" y="298.2" width="10.3" height="25.8" rx="2.2" fill="#2cc4f9"/>
<rect x="1975.6" y="320.7" width="21.6" height="122.4" rx="2.2" fill="#2cc4f9"/>
<rect x="2013.9" y="283.2" width="14.5" height="50.0" rx="2.2" fill="#3189fb"/>
<rect x="2022.3" y="310.3" width="21.6" height="44.5" rx="2.2" fill="#379ffa"/>
<rect x="2022.3" y="358.1" width="20.8" height="48.8" rx="2.2" fill="#3189fb"/>
<rect x="1984.8" y="400.6" width="14.2" height="30.8" rx="2.2" fill="#33d5f9"/>
<rect x="1925.4" y="373.6" width="13.7" height="26.6" rx="2.2" fill="#30b2f9"/>
<rect x="1915.7" y="402.3" width="14.7" height="33.3" rx="2.2" fill="#30b2f9"/>
<rect x="1880.4" y="426.9" width="17.8" height="44.5" rx="2.2" fill="#30b2f9"/>
<rect x="1864.4" y="443.9" width="15.0" height="36.6" rx="2.2" fill="#33d5f9"/>
<rect x="1938.7" y="439.7" width="22.8" height="34.1" rx="2.2" fill="#2cc4f9"/>
<rect x="1944.8" y="412.2" width="21.6" height="74.1" rx="2.2" fill="#30b2f9"/>
<rect x="1959.3" y="437.2" width="10.8" height="11.7" rx="2.2" fill="#379ffa"/>
<rect x="2043.9" y="460.4" width="12.0" height="30.8" rx="2.2" fill="#30b2f9"/>
<rect x="2038.1" y="515.7" width="19.5" height="40.0" rx="2.2" fill="#379ffa"/>
<clipPath id="bcc"><rect x="1913.50" y="56.50" width="177.85" height="748.80"/></clipPath>
<g clip-path="url(#bcc)"><polygon points="1893.50,227.30 2099.35,323.16 2099.35,398.16 1893.50,302.30" fill="#5a5a5a" opacity="0.6" filter="url(#bl)"/></g>
<line x1="1913.50" y1="274.12" x2="2091.35" y2="356.96" stroke="#555" stroke-width="6.2"/>
</g>
<rect x="1534.90" y="665.80" width="428.00" height="120.70" rx="8" fill="#fff" fill-opacity="0.8" stroke="#ccc" stroke-opacity="0.8" stroke-width="4.1"/>
<line x1="1546.10" y1="695.90" x2="1627.90" y2="695.90" stroke="#555" stroke-width="6.6"/>
<text transform="translate(1655.50 709.70) scale(0.9975 1)" x="-0.29 26.51 50.51 73.56 85.29 101.83 132.54 144.57 157.91 170.85 194.26 206.72 229.65 243.60 279.99" y="0"><tspan font-size="39.40" dy="0.00">V19 (</tspan><tspan font-size="48.30" dy="4.30">+</tspan><tspan font-size="39.40" dy="-4.30">/- 0.4 m)</tspan></text>
<rect x="1578.00" y="745.30" width="18.4" height="18.4" rx="2.5" fill="#1f77b4"/>
<text transform="translate(1654.30 762.80) scale(0.9722 1)" x="0.04 27.50 52.23" y="0"><tspan font-size="39.40" dy="0.00">A10</tspan></text>
<rect x="1516.10" y="56.50" width="575.25" height="748.80" fill="none" stroke="#000" stroke-width="3.45"/>
<path d="M1516.10 56.50v-16.7M1516.10 805.30v16.7M1611.97 56.50v-16.7M1611.97 805.30v16.7M1707.85 56.50v-16.7M1707.85 805.30v16.7M1803.72 56.50v-16.7M1803.72 805.30v16.7M1899.60 56.50v-16.7M1899.60 805.30v16.7M1995.47 56.50v-16.7M1995.47 805.30v16.7M2091.35 56.50v-16.7M2091.35 805.30v16.7M1516.10 805.30h-16.7M2091.35 805.30h16.7M1516.10 711.70h-16.7M2091.35 711.70h16.7M1516.10 618.10h-16.7M2091.35 618.10h16.7M1516.10 524.50h-16.7M2091.35 524.50h16.7M1516.10 430.90h-16.7M2091.35 430.90h16.7M1516.10 337.30h-16.7M2091.35 337.30h16.7M1516.10 243.70h-16.7M2091.35 243.70h16.7M1516.10 150.10h-16.7M2091.35 150.10h16.7M1516.10 56.50h-16.7M2091.35 56.50h16.7" stroke="#000" stroke-width="3.45" fill="none"/>
<path d="M1532.08 56.50v-9.6M1532.08 805.30v9.6M1548.06 56.50v-9.6M1548.06 805.30v9.6M1564.04 56.50v-9.6M1564.04 805.30v9.6M1580.02 56.50v-9.6M1580.02 805.30v9.6M1596.00 56.50v-9.6M1596.00 805.30v9.6M1627.95 56.50v-9.6M1627.95 805.30v9.6M1643.93 56.50v-9.6M1643.93 805.30v9.6M1659.91 56.50v-9.6M1659.91 805.30v9.6M1675.89 56.50v-9.6M1675.89 805.30v9.6M1691.87 56.50v-9.6M1691.87 805.30v9.6M1723.83 56.50v-9.6M1723.83 805.30v9.6M1739.81 56.50v-9.6M1739.81 805.30v9.6M1755.79 56.50v-9.6M1755.79 805.30v9.6M1771.77 56.50v-9.6M1771.77 805.30v9.6M1787.75 56.50v-9.6M1787.75 805.30v9.6M1819.70 56.50v-9.6M1819.70 805.30v9.6M1835.68 56.50v-9.6M1835.68 805.30v9.6M1851.66 56.50v-9.6M1851.66 805.30v9.6M1867.64 56.50v-9.6M1867.64 805.30v9.6M1883.62 56.50v-9.6M1883.62 805.30v9.6M1915.58 56.50v-9.6M1915.58 805.30v9.6M1931.56 56.50v-9.6M1931.56 805.30v9.6M1947.54 56.50v-9.6M1947.54 805.30v9.6M1963.52 56.50v-9.6M1963.52 805.30v9.6M1979.50 56.50v-9.6M1979.50 805.30v9.6M2011.45 56.50v-9.6M2011.45 805.30v9.6M2027.43 56.50v-9.6M2027.43 805.30v9.6M2043.41 56.50v-9.6M2043.41 805.30v9.6M2059.39 56.50v-9.6M2059.39 805.30v9.6M2075.37 56.50v-9.6M2075.37 805.30v9.6M1516.10 795.94h-9.6M2091.35 795.94h9.6M1516.10 786.58h-9.6M2091.35 786.58h9.6M1516.10 777.22h-9.6M2091.35 777.22h9.6M1516.10 767.86h-9.6M2091.35 767.86h9.6M1516.10 758.50h-9.6M2091.35 758.50h9.6M1516.10 749.14h-9.6M2091.35 749.14h9.6M1516.10 739.78h-9.6M2091.35 739.78h9.6M1516.10 730.42h-9.6M2091.35 730.42h9.6M1516.10 721.06h-9.6M2091.35 721.06h9.6M1516.10 702.34h-9.6M2091.35 702.34h9.6M1516.10 692.98h-9.6M2091.35 692.98h9.6M1516.10 683.62h-9.6M2091.35 683.62h9.6M1516.10 674.26h-9.6M2091.35 674.26h9.6M1516.10 664.90h-9.6M2091.35 664.90h9.6M1516.10 655.54h-9.6M2091.35 655.54h9.6M1516.10 646.18h-9.6M2091.35 646.18h9.6M1516.10 636.82h-9.6M2091.35 636.82h9.6M1516.10 627.46h-9.6M2091.35 627.46h9.6M1516.10 608.74h-9.6M2091.35 608.74h9.6M1516.10 599.38h-9.6M2091.35 599.38h9.6M1516.10 590.02h-9.6M2091.35 590.02h9.6M1516.10 580.66h-9.6M2091.35 580.66h9.6M1516.10 571.30h-9.6M2091.35 571.30h9.6M1516.10 561.94h-9.6M2091.35 561.94h9.6M1516.10 552.58h-9.6M2091.35 552.58h9.6M1516.10 543.22h-9.6M2091.35 543.22h9.6M1516.10 533.86h-9.6M2091.35 533.86h9.6M1516.10 515.14h-9.6M2091.35 515.14h9.6M1516.10 505.78h-9.6M2091.35 505.78h9.6M1516.10 496.42h-9.6M2091.35 496.42h9.6M1516.10 487.06h-9.6M2091.35 487.06h9.6M1516.10 477.70h-9.6M2091.35 477.70h9.6M1516.10 468.34h-9.6M2091.35 468.34h9.6M1516.10 458.98h-9.6M2091.35 458.98h9.6M1516.10 449.62h-9.6M2091.35 449.62h9.6M1516.10 440.26h-9.6M2091.35 440.26h9.6M1516.10 421.54h-9.6M2091.35 421.54h9.6M1516.10 412.18h-9.6M2091.35 412.18h9.6M1516.10 402.82h-9.6M2091.35 402.82h9.6M1516.10 393.46h-9.6M2091.35 393.46h9.6M1516.10 384.10h-9.6M2091.35 384.10h9.6M1516.10 374.74h-9.6M2091.35 374.74h9.6M1516.10 365.38h-9.6M2091.35 365.38h9.6M1516.10 356.02h-9.6M2091.35 356.02h9.6M1516.10 346.66h-9.6M2091.35 346.66h9.6M1516.10 327.94h-9.6M2091.35 327.94h9.6M1516.10 318.58h-9.6M2091.35 318.58h9.6M1516.10 309.22h-9.6M2091.35 309.22h9.6M1516.10 299.86h-9.6M2091.35 299.86h9.6M1516.10 290.50h-9.6M2091.35 290.50h9.6M1516.10 281.14h-9.6M2091.35 281.14h9.6M1516.10 271.78h-9.6M2091.35 271.78h9.6M1516.10 262.42h-9.6M2091.35 262.42h9.6M1516.10 253.06h-9.6M2091.35 253.06h9.6M1516.10 234.34h-9.6M2091.35 234.34h9.6M1516.10 224.98h-9.6M2091.35 224.98h9.6M1516.10 215.62h-9.6M2091.35 215.62h9.6M1516.10 206.26h-9.6M2091.35 206.26h9.6M1516.10 196.90h-9.6M2091.35 196.90h9.6M1516.10 187.54h-9.6M2091.35 187.54h9.6M1516.10 178.18h-9.6M2091.35 178.18h9.6M1516.10 168.82h-9.6M2091.35 168.82h9.6M1516.10 159.46h-9.6M2091.35 159.46h9.6M1516.10 140.74h-9.6M2091.35 140.74h9.6M1516.10 131.38h-9.6M2091.35 131.38h9.6M1516.10 122.02h-9.6M2091.35 122.02h9.6M1516.10 112.66h-9.6M2091.35 112.66h9.6M1516.10 103.30h-9.6M2091.35 103.30h9.6M1516.10 93.94h-9.6M2091.35 93.94h9.6M1516.10 84.58h-9.6M2091.35 84.58h9.6M1516.10 75.22h-9.6M2091.35 75.22h9.6M1516.10 65.86h-9.6M2091.35 65.86h9.6" stroke="#000" stroke-width="3.05" fill="none"/>
<text transform="translate(1484.60 819.80) scale(1.0033 1)" x="-22.86" y="0"><tspan font-size="39.40" dy="0.00">0</tspan></text>
<text transform="translate(1484.60 726.20) scale(0.9582 1)" x="-23.60" y="0"><tspan font-size="39.40" dy="0.00">1</tspan></text>
<text transform="translate(1484.60 632.60) scale(0.9671 1)" x="-23.81" y="0"><tspan font-size="39.40" dy="0.00">2</tspan></text>
<text transform="translate(1484.60 539.00) scale(0.9635 1)" x="-23.30" y="0"><tspan font-size="39.40" dy="0.00">3</tspan></text>
<text transform="translate(1484.60 445.40) scale(1.0034 1)" x="-22.86" y="0"><tspan font-size="39.40" dy="0.00">4</tspan></text>
<text transform="translate(1484.60 351.80) scale(0.9469 1)" x="-23.72" y="0"><tspan font-size="39.40" dy="0.00">5</tspan></text>
<text transform="translate(1484.60 258.20) scale(1.0384 1)" x="-22.46" y="0"><tspan font-size="39.40" dy="0.00">6</tspan></text>
<text transform="translate(1484.60 164.60) scale(0.9814 1)" x="-23.20" y="0"><tspan font-size="39.40" dy="0.00">7</tspan></text>
<text transform="translate(1484.60 71.00) scale(1.0142 1)" x="-22.73" y="0"><tspan font-size="39.40" dy="0.00">8</tspan></text>
<text transform="translate(1515.90 28.90) scale(0.9550 1)" x="0.49" y="0"><tspan font-size="39.40" dy="0.00">c</tspan></text>
</g>
<g id="panel-d">
<path d="M231.47 955.30V1704.10M327.35 955.30V1704.10M423.23 955.30V1704.10M519.10 955.30V1704.10M614.98 955.30V1704.10M135.60 1516.90H710.85M135.60 1329.70H710.85M135.60 1142.50H710.85" stroke="#b0b0b0" stroke-width="3.3" fill="none"/>
<g clip-path="url(#cpd)">
<rect x="135.7" y="977.0" width="8.5" height="31.6" rx="2.2" fill="#30b2f9"/>
<rect x="135.7" y="977.0" width="13.5" height="29.6" rx="2.2" fill="#30b2f9"/>
<rect x="146.7" y="981.7" width="15.8" height="18.8" rx="2.2" fill="#379ffa"/>
<rect x="143.3" y="1034.9" width="21.6" height="23.3" rx="2.2" fill="#33d5f9"/>
<rect x="181.6" y="1009.6" width="15.3" height="17.8" rx="2.2" fill="#30b2f9"/>
<rect x="211.3" y="995.0" width="21.5" height="24.5" rx="2.2" fill="#379ffa"/>
<rect x="241.1" y="1008.3" width="15.2" height="17.0" rx="2.2" fill="#2f70fb"/>
<rect x="273.5" y="1013.6" width="14.7" height="18.8" rx="2.2" fill="#3189fb"/>
<rect x="286.2" y="1053.2" width="10.3" height="11.7" rx="2.2" fill="#379ffa"/>
<rect x="305.7" y="1054.9" width="15.0" height="15.3" rx="2.2" fill="#379ffa"/>
<rect x="316.5" y="1045.8" width="21.1" height="23.3" rx="2.2" fill="#3189fb"/>
<rect x="227.1" y="1064.4" width="14.8" height="16.3" rx="2.2" fill="#2cc4f9"/>
<rect x="246.2" y="1069.1" width="21.5" height="21.6" rx="2.2" fill="#2cc4f9"/>
<rect x="278.5" y="1087.9" width="15.0" height="15.7" rx="2.2" fill="#33d5f9"/>
<rect x="151.3" y="1094.5" width="15.0" height="16.7" rx="2.2" fill="#5ae3f6"/>
<rect x="202.8" y="1100.2" width="21.3" height="25.5" rx="2.2" fill="#5ae3f6"/>
<rect x="135.7" y="1107.9" width="16.0" height="7.0" rx="2.2" fill="#5ae3f6"/>
<rect x="135.7" y="1113.2" width="19.3" height="30.8" rx="2.2" fill="#30b2f9"/>
<rect x="152.5" y="1120.2" width="14.5" height="27.1" rx="2.2" fill="#30b2f9"/>
<rect x="186.6" y="1135.3" width="21.6" height="33.6" rx="2.2" fill="#2cc4f9"/>
<rect x="182.1" y="1145.7" width="21.1" height="30.5" rx="2.2" fill="#2cc4f9"/>
<rect x="214.9" y="1164.0" width="15.0" height="15.8" rx="2.2" fill="#5ae3f6"/>
<rect x="211.3" y="1169.8" width="21.5" height="33.3" rx="2.2" fill="#30b2f9"/>
<rect x="223.6" y="1156.0" width="21.3" height="31.3" rx="2.2" fill="#30b2f9"/>
<rect x="240.2" y="1141.5" width="21.6" height="40.0" rx="2.2" fill="#2cc4f9"/>
<rect x="262.4" y="1153.1" width="7.5" height="11.7" rx="2.2" fill="#5ae3f6"/>
<rect x="258.2" y="1162.8" width="19.5" height="27.0" rx="2.2" fill="#2cc4f9"/>
<rect x="243.2" y="1171.5" width="23.0" height="22.5" rx="2.2" fill="#33d5f9"/>
<rect x="288.2" y="1181.5" width="14.5" height="20.0" rx="2.2" fill="#30b2f9"/>
<rect x="284.0" y="1193.1" width="21.3" height="29.6" rx="2.2" fill="#33d5f9"/>
<rect x="301.2" y="1187.3" width="22.0" height="24.1" rx="2.2" fill="#5ae3f6"/>
<rect x="312.0" y="1176.5" width="14.5" height="19.1" rx="2.2" fill="#2cc4f9"/>
<rect x="323.1" y="1176.1" width="21.1" height="25.3" rx="2.2" fill="#33d5f9"/>
<rect x="327.3" y="1198.1" width="16.2" height="13.3" rx="2.2" fill="#5ae3f6"/>
<rect x="341.5" y="1206.4" width="15.0" height="21.6" rx="2.2" fill="#30b2f9"/>
<rect x="365.9" y="1183.9" width="21.0" height="40.0" rx="2.2" fill="#2f70fb"/>
<rect x="356.1" y="1208.9" width="21.1" height="36.6" rx="2.2" fill="#3189fb"/>
<rect x="341.1" y="1227.2" width="15.0" height="20.0" rx="2.2" fill="#2f70fb"/>
<rect x="353.1" y="1223.9" width="10.5" height="10.8" rx="2.2" fill="#30b2f9"/>
<rect x="379.3" y="1184.8" width="21.3" height="26.6" rx="2.2" fill="#5ae3f6"/>
<rect x="391.4" y="1198.1" width="15.0" height="19.6" rx="2.2" fill="#5ae3f6"/>
<rect x="402.2" y="1190.6" width="21.6" height="28.6" rx="2.2" fill="#33d5f9"/>
<rect x="401.4" y="1218.1" width="15.0" height="11.7" rx="2.2" fill="#2cc4f9"/>
<rect x="404.7" y="1224.7" width="14.2" height="19.5" rx="2.2" fill="#2cc4f9"/>
<rect x="395.1" y="1230.2" width="14.7" height="22.0" rx="2.2" fill="#30b2f9"/>
<rect x="442.8" y="1131.6" width="15.0" height="16.7" rx="2.2" fill="#2cc4f9"/>
<rect x="472.8" y="1184.4" width="21.8" height="23.3" rx="2.2" fill="#33d5f9"/>
<rect x="459.5" y="1196.5" width="14.7" height="18.3" rx="2.2" fill="#5ae3f6"/>
<rect x="445.5" y="1220.2" width="12.8" height="13.0" rx="2.2" fill="#33d5f9"/>
<rect x="454.1" y="1219.8" width="13.8" height="19.5" rx="2.2" fill="#5ae3f6"/>
<rect x="435.3" y="1227.3" width="21.8" height="26.6" rx="2.2" fill="#33d5f9"/>
<rect x="495.7" y="1211.0" width="21.3" height="30.0" rx="2.2" fill="#33d5f9"/>
<rect x="499.9" y="1238.1" width="13.3" height="5.0" rx="2.2" fill="#33d5f9"/>
<rect x="483.8" y="1241.5" width="14.5" height="23.3" rx="2.2" fill="#33d5f9"/>
<rect x="484.9" y="1249.8" width="15.0" height="22.5" rx="2.2" fill="#33d5f9"/>
<rect x="500.7" y="1254.8" width="20.8" height="31.6" rx="2.2" fill="#379ffa"/>
<rect x="518.2" y="1196.2" width="15.8" height="59.8" rx="2.2" fill="#3189fb"/>
<rect x="532.0" y="1194.5" width="21.5" height="70.3" rx="2.2" fill="#30b2f9"/>
<rect x="536.5" y="1249.8" width="14.2" height="21.3" rx="2.2" fill="#2cc4f9"/>
<rect x="523.2" y="1271.4" width="15.0" height="31.1" rx="2.2" fill="#2f70fb"/>
<rect x="514.1" y="1287.3" width="15.5" height="27.5" rx="2.2" fill="#2b3cf3"/>
<rect x="560.3" y="1219.8" width="22.0" height="66.6" rx="2.2" fill="#2f70fb"/>
<rect x="581.5" y="1240.3" width="19.1" height="45.8" rx="2.2" fill="#1f1ce8"/>
<rect x="566.0" y="1218.5" width="21.8" height="40.0" rx="2.2" fill="#2cc4f9"/>
<rect x="568.2" y="1279.8" width="15.0" height="12.5" rx="2.2" fill="#2f5af7"/>
</g>
<rect x="153.90" y="1619.90" width="230.20" height="64.30" rx="8" fill="#fff" fill-opacity="0.8" stroke="#ccc" stroke-opacity="0.8" stroke-width="4.1"/>
<rect x="197.50" y="1642.60" width="18.4" height="18.4" rx="2.5" fill="#1f77b4"/>
<text transform="translate(273.80 1661.60) scale(0.9815 1)" x="1.46 22.88 48.66 73.08" y="0"><tspan font-size="39.40" dy="0.00">vK17</tspan></text>
<rect x="135.60" y="955.30" width="575.25" height="748.80" fill="none" stroke="#000" stroke-width="3.45"/>
<path d="M135.60 955.30v-16.7M135.60 1704.10v16.7M231.47 955.30v-16.7M231.47 1704.10v16.7M327.35 955.30v-16.7M327.35 1704.10v16.7M423.23 955.30v-16.7M423.23 1704.10v16.7M519.10 955.30v-16.7M519.10 1704.10v16.7M614.98 955.30v-16.7M614.98 1704.10v16.7M710.85 955.30v-16.7M710.85 1704.10v16.7M135.60 1704.10h-16.7M710.85 1704.10h16.7M135.60 1516.90h-16.7M710.85 1516.90h16.7M135.60 1329.70h-16.7M710.85 1329.70h16.7M135.60 1142.50h-16.7M710.85 1142.50h16.7M135.60 955.30h-16.7M710.85 955.30h16.7" stroke="#000" stroke-width="3.45" fill="none"/>
<path d="M151.58 955.30v-9.6M151.58 1704.10v9.6M167.56 955.30v-9.6M167.56 1704.10v9.6M183.54 955.30v-9.6M183.54 1704.10v9.6M199.52 955.30v-9.6M199.52 1704.10v9.6M215.50 955.30v-9.6M215.50 1704.10v9.6M247.45 955.30v-9.6M247.45 1704.10v9.6M263.43 955.30v-9.6M263.43 1704.10v9.6M279.41 955.30v-9.6M279.41 1704.10v9.6M295.39 955.30v-9.6M295.39 1704.10v9.6M311.37 955.30v-9.6M311.37 1704.10v9.6M343.33 955.30v-9.6M343.33 1704.10v9.6M359.31 955.30v-9.6M359.31 1704.10v9.6M375.29 955.30v-9.6M375.29 1704.10v9.6M391.27 955.30v-9.6M391.27 1704.10v9.6M407.25 955.30v-9.6M407.25 1704.10v9.6M439.20 955.30v-9.6M439.20 1704.10v9.6M455.18 955.30v-9.6M455.18 1704.10v9.6M471.16 955.30v-9.6M471.16 1704.10v9.6M487.14 955.30v-9.6M487.14 1704.10v9.6M503.12 955.30v-9.6M503.12 1704.10v9.6M535.08 955.30v-9.6M535.08 1704.10v9.6M551.06 955.30v-9.6M551.06 1704.10v9.6M567.04 955.30v-9.6M567.04 1704.10v9.6M583.02 955.30v-9.6M583.02 1704.10v9.6M599.00 955.30v-9.6M599.00 1704.10v9.6M630.95 955.30v-9.6M630.95 1704.10v9.6M646.93 955.30v-9.6M646.93 1704.10v9.6M662.91 955.30v-9.6M662.91 1704.10v9.6M678.89 955.30v-9.6M678.89 1704.10v9.6M694.87 955.30v-9.6M694.87 1704.10v9.6M135.60 1685.38h-9.6M710.85 1685.38h9.6M135.60 1666.66h-9.6M710.85 1666.66h9.6M135.60 1647.94h-9.6M710.85 1647.94h9.6M135.60 1629.22h-9.6M710.85 1629.22h9.6M135.60 1610.50h-9.6M710.85 1610.50h9.6M135.60 1591.78h-9.6M710.85 1591.78h9.6M135.60 1573.06h-9.6M710.85 1573.06h9.6M135.60 1554.34h-9.6M710.85 1554.34h9.6M135.60 1535.62h-9.6M710.85 1535.62h9.6M135.60 1498.18h-9.6M710.85 1498.18h9.6M135.60 1479.46h-9.6M710.85 1479.46h9.6M135.60 1460.74h-9.6M710.85 1460.74h9.6M135.60 1442.02h-9.6M710.85 1442.02h9.6M135.60 1423.30h-9.6M710.85 1423.30h9.6M135.60 1404.58h-9.6M710.85 1404.58h9.6M135.60 1385.86h-9.6M710.85 1385.86h9.6M135.60 1367.14h-9.6M710.85 1367.14h9.6M135.60 1348.42h-9.6M710.85 1348.42h9.6M135.60 1310.98h-9.6M710.85 1310.98h9.6M135.60 1292.26h-9.6M710.85 1292.26h9.6M135.60 1273.54h-9.6M710.85 1273.54h9.6M135.60 1254.82h-9.6M710.85 1254.82h9.6M135.60 1236.10h-9.6M710.85 1236.10h9.6M135.60 1217.38h-9.6M710.85 1217.38h9.6M135.60 1198.66h-9.6M710.85 1198.66h9.6M135.60 1179.94h-9.6M710.85 1179.94h9.6M135.60 1161.22h-9.6M710.85 1161.22h9.6M135.60 1123.78h-9.6M710.85 1123.78h9.6M135.60 1105.06h-9.6M710.85 1105.06h9.6M135.60 1086.34h-9.6M710.85 1086.34h9.6M135.60 1067.62h-9.6M710.85 1067.62h9.6M135.60 1048.90h-9.6M710.85 1048.90h9.6M135.60 1030.18h-9.6M710.85 1030.18h9.6M135.60 1011.46h-9.6M710.85 1011.46h9.6M135.60 992.74h-9.6M710.85 992.74h9.6M135.60 974.02h-9.6M710.85 974.02h9.6" stroke="#000" stroke-width="3.05" fill="none"/>
<text transform="translate(104.10 1718.60) scale(1.0033 1)" x="-22.86" y="0"><tspan font-size="39.40" dy="0.00">0</tspan></text>
<text transform="translate(104.10 1531.40) scale(0.9819 1)" x="-47.61 -23.11" y="0"><tspan font-size="39.40" dy="0.00">10</tspan></text>
<text transform="translate(104.10 1344.20) scale(0.9856 1)" x="-47.78 -23.07" y="0"><tspan font-size="39.40" dy="0.00">20</tspan></text>
<text transform="translate(104.10 1157.00) scale(0.9835 1)" x="-47.30 -23.09" y="0"><tspan font-size="39.40" dy="0.00">30</tspan></text>
<text transform="translate(104.10 969.80) scale(1.0034 1)" x="-46.64 -22.85" y="0"><tspan font-size="39.40" dy="0.00">40</tspan></text>
<text transform="translate(135.60 1765.80) scale(0.9675 1)" x="-38.78 -7.21 17.45" y="0"><tspan font-size="48.30" dy="4.30">−</tspan><tspan font-size="39.40" dy="-4.30">55</tspan></text>
<text transform="translate(231.47 1765.80) scale(1.0120 1)" x="-37.69 -7.23 16.23" y="0"><tspan font-size="48.30" dy="4.30">−</tspan><tspan font-size="39.40" dy="-4.30">49</tspan></text>
<text transform="translate(327.35 1765.80) scale(0.9902 1)" x="-38.21 -7.15 17.00" y="0"><tspan font-size="48.30" dy="4.30">−</tspan><tspan font-size="39.40" dy="-4.30">43</tspan></text>
<text transform="translate(423.23 1765.80) scale(0.9832 1)" x="-38.38 -7.07 17.07" y="0"><tspan font-size="48.30" dy="4.30">−</tspan><tspan font-size="39.40" dy="-4.30">37</tspan></text>
<text transform="translate(519.10 1765.80) scale(0.9766 1)" x="-38.55 -7.04 17.14" y="0"><tspan font-size="48.30" dy="4.30">−</tspan><tspan font-size="39.40" dy="-4.30">31</tspan></text>
<text transform="translate(614.98 1765.80) scale(0.9738 1)" x="-38.62 -7.59 17.27" y="0"><tspan font-size="48.30" dy="4.30">−</tspan><tspan font-size="39.40" dy="-4.30">25</tspan></text>
<text transform="translate(710.85 1765.80) scale(0.9993 1)" x="-37.99 -7.38 16.58" y="0"><tspan font-size="48.30" dy="4.30">−</tspan><tspan font-size="39.40" dy="-4.30">19</tspan></text>
<text transform="translate(420.73 1820.30) scale(1.0127 1)" x="-162.92 -139.08 -115.08 -79.71 -56.72 -32.70 -20.24 5.15 18.69 43.21 57.19 79.46 90.90 108.10 120.39 149.42" y="0"><tspan font-size="39.40" dy="0.00">Temperature (</tspan><tspan font-size="28.50" dy="-5.70">°</tspan><tspan font-size="39.40" dy="5.70">C)</tspan></text>
<text transform="translate(135.40 927.70) scale(1.0344 1)" x="0.35" y="0"><tspan font-size="39.40" dy="0.00">d</tspan></text>
</g>
<g id="panel-e">
<path d="M921.77 955.30V1704.10M1017.65 955.30V1704.10M1113.53 955.30V1704.10M1209.40 955.30V1704.10M1305.28 955.30V1704.10M825.90 1516.90H1401.15M825.90 1329.70H1401.15M825.90 1142.50H1401.15" stroke="#b0b0b0" stroke-width="3.3" fill="none"/>
<g clip-path="url(#cpe)">
<rect x="826.0" y="991.7" width="8.2" height="35.0" rx="2.2" fill="#30b2f9"/>
<rect x="826.0" y="991.7" width="14.0" height="27.5" rx="2.2" fill="#30b2f9"/>
<rect x="836.7" y="995.8" width="16.7" height="18.8" rx="2.2" fill="#379ffa"/>
<rect x="872.4" y="1025.0" width="15.3" height="18.0" rx="2.2" fill="#30b2f9"/>
<rect x="834.5" y="1065.2" width="21.3" height="23.8" rx="2.2" fill="#33d5f9"/>
<rect x="826.0" y="1076.6" width="19.8" height="31.6" rx="2.2" fill="#30b2f9"/>
<rect x="843.3" y="1092.4" width="14.5" height="25.0" rx="2.2" fill="#30b2f9"/>
<rect x="826.0" y="1134.8" width="24.0" height="28.6" rx="2.2" fill="#5ae3f6"/>
<rect x="826.0" y="1179.8" width="16.5" height="16.7" rx="2.2" fill="#5ae3f6"/>
<rect x="841.6" y="1183.1" width="15.3" height="16.7" rx="2.2" fill="#46dcf8"/>
<rect x="857.5" y="1166.1" width="10.8" height="18.6" rx="2.2" fill="#5ae3f6"/>
<rect x="875.3" y="1218.6" width="21.3" height="32.8" rx="2.2" fill="#5ae3f6"/>
<rect x="877.4" y="1113.5" width="21.6" height="33.8" rx="2.2" fill="#2cc4f9"/>
<rect x="872.4" y="1144.8" width="21.6" height="30.8" rx="2.2" fill="#2cc4f9"/>
<rect x="894.1" y="1149.8" width="21.6" height="29.1" rx="2.2" fill="#5ae3f6"/>
<rect x="901.6" y="1139.8" width="21.6" height="28.3" rx="2.2" fill="#34a8fa"/>
<rect x="914.4" y="1149.8" width="21.3" height="33.3" rx="2.2" fill="#30b2f9"/>
<rect x="931.2" y="1142.3" width="21.5" height="34.1" rx="2.2" fill="#2fcbf9"/>
<rect x="927.4" y="1173.1" width="21.6" height="25.0" rx="2.2" fill="#2cc4f9"/>
<rect x="947.4" y="1176.0" width="20.8" height="28.8" rx="2.2" fill="#2fcbf9"/>
<rect x="918.2" y="1088.7" width="15.0" height="16.2" rx="2.2" fill="#2cc4f9"/>
<rect x="931.9" y="1078.6" width="15.0" height="28.8" rx="2.2" fill="#2f70fb"/>
<rect x="936.1" y="1096.5" width="22.1" height="15.0" rx="2.2" fill="#2cc4f9"/>
<rect x="946.5" y="1091.1" width="11.7" height="7.2" rx="2.2" fill="#2cc4f9"/>
<rect x="996.5" y="1061.9" width="14.7" height="15.5" rx="2.2" fill="#379ffa"/>
<rect x="964.4" y="1106.2" width="14.7" height="32.0" rx="2.2" fill="#3189fb"/>
<rect x="976.5" y="1122.9" width="10.8" height="21.6" rx="2.2" fill="#379ffa"/>
<rect x="1006.8" y="1118.2" width="21.3" height="35.8" rx="2.2" fill="#3189fb"/>
<rect x="1020.3" y="1136.0" width="14.5" height="40.0" rx="2.2" fill="#2f5af7"/>
<rect x="1031.5" y="1168.1" width="15.0" height="30.0" rx="2.2" fill="#2f70fb"/>
<rect x="1046.4" y="1159.0" width="21.6" height="35.5" rx="2.2" fill="#3189fb"/>
<rect x="1056.4" y="1113.5" width="21.3" height="35.1" rx="2.2" fill="#2f67f9"/>
<rect x="969.5" y="1154.0" width="14.5" height="57.1" rx="2.2" fill="#30ccf9"/>
<rect x="978.7" y="1167.3" width="15.0" height="25.3" rx="2.2" fill="#30b2f9"/>
<rect x="1002.7" y="1180.3" width="15.5" height="25.3" rx="2.2" fill="#2cc4f9"/>
<rect x="1014.0" y="1186.5" width="21.6" height="30.0" rx="2.2" fill="#33d5f9"/>
<rect x="1032.3" y="1199.8" width="14.7" height="28.3" rx="2.2" fill="#30b2f9"/>
<rect x="1092.6" y="1207.3" width="21.3" height="28.3" rx="2.2" fill="#33d5f9"/>
<rect x="1091.7" y="1201.1" width="15.0" height="20.3" rx="2.2" fill="#30b2f9"/>
<rect x="1070.2" y="1211.8" width="21.5" height="29.6" rx="2.2" fill="#46dcf8"/>
<rect x="1081.4" y="1234.7" width="15.0" height="20.0" rx="2.2" fill="#46dcf8"/>
<rect x="1097.2" y="1236.4" width="12.2" height="18.3" rx="2.2" fill="#2cc4f9"/>
<rect x="1085.6" y="1248.1" width="14.2" height="15.8" rx="2.2" fill="#30b2f9"/>
<rect x="938.2" y="1211.4" width="22.5" height="31.6" rx="2.2" fill="#5ae3f6"/>
<rect x="933.2" y="1226.4" width="23.3" height="27.8" rx="2.2" fill="#43dbf8"/>
<rect x="906.1" y="1246.4" width="15.5" height="27.5" rx="2.2" fill="#5ae3f6"/>
<rect x="965.4" y="1239.7" width="21.1" height="31.6" rx="2.2" fill="#5ae3f6"/>
<rect x="974.8" y="1229.2" width="21.6" height="20.5" rx="2.2" fill="#33d5f9"/>
<rect x="987.3" y="1248.1" width="9.2" height="14.2" rx="2.2" fill="#30ccf9"/>
<rect x="992.3" y="1258.5" width="21.3" height="32.3" rx="2.2" fill="#5ae3f6"/>
<rect x="1008.1" y="1221.4" width="15.0" height="23.3" rx="2.2" fill="#46dcf8"/>
<rect x="1017.3" y="1242.2" width="16.3" height="24.5" rx="2.2" fill="#52e0f7"/>
<rect x="1268.5" y="1157.1" width="21.0" height="37.3" rx="2.2" fill="#1f1ce8"/>
<rect x="1255.7" y="1207.3" width="21.3" height="49.1" rx="2.2" fill="#2cc4f9"/>
<rect x="1293.6" y="1278.9" width="14.8" height="23.8" rx="2.2" fill="#33d5f9"/>
<rect x="1212.4" y="1227.0" width="14.5" height="32.5" rx="2.2" fill="#2f70fb"/>
<rect x="1186.2" y="1227.8" width="20.0" height="29.1" rx="2.2" fill="#33d5f9"/>
<rect x="1191.1" y="1239.0" width="19.6" height="33.6" rx="2.2" fill="#3494fa"/>
<rect x="1174.4" y="1198.7" width="14.7" height="15.0" rx="2.2" fill="#2cc4f9"/>
<rect x="1133.3" y="1211.0" width="15.3" height="23.5" rx="2.2" fill="#2fb7f9"/>
<rect x="1135.8" y="1231.5" width="11.2" height="13.3" rx="2.2" fill="#30ccf9"/>
<rect x="1126.1" y="1263.6" width="21.3" height="31.6" rx="2.2" fill="#2dc7f9"/>
<rect x="1143.3" y="1269.8" width="15.3" height="24.1" rx="2.2" fill="#5ae3f6"/>
<rect x="1163.6" y="1276.4" width="21.8" height="22.8" rx="2.2" fill="#46dcf8"/>
</g>
<rect x="844.20" y="1619.90" width="258.75" height="64.30" rx="8" fill="#fff" fill-opacity="0.8" stroke="#ccc" stroke-opacity="0.8" stroke-width="4.1"/>
<rect x="887.80" y="1642.60" width="18.4" height="18.4" rx="2.5" fill="#1f77b4"/>
<text transform="translate(964.10 1661.60) scale(1.0062 1)" x="1.18 23.28 44.33 68.16 92.58" y="0"><tspan font-size="39.40" dy="0.00">vk17</tspan><tspan font-size="48.30" dy="4.30">+</tspan></text>
<rect x="825.90" y="955.30" width="575.25" height="748.80" fill="none" stroke="#000" stroke-width="3.45"/>
<path d="M825.90 955.30v-16.7M825.90 1704.10v16.7M921.77 955.30v-16.7M921.77 1704.10v16.7M1017.65 955.30v-16.7M1017.65 1704.10v16.7M1113.53 955.30v-16.7M1113.53 1704.10v16.7M1209.40 955.30v-16.7M1209.40 1704.10v16.7M1305.28 955.30v-16.7M1305.28 1704.10v16.7M1401.15 955.30v-16.7M1401.15 1704.10v16.7M825.90 1704.10h-16.7M1401.15 1704.10h16.7M825.90 1516.90h-16.7M1401.15 1516.90h16.7M825.90 1329.70h-16.7M1401.15 1329.70h16.7M825.90 1142.50h-16.7M1401.15 1142.50h16.7M825.90 955.30h-16.7M1401.15 955.30h16.7" stroke="#000" stroke-width="3.45" fill="none"/>
<path d="M841.88 955.30v-9.6M841.88 1704.10v9.6M857.86 955.30v-9.6M857.86 1704.10v9.6M873.84 955.30v-9.6M873.84 1704.10v9.6M889.82 955.30v-9.6M889.82 1704.10v9.6M905.80 955.30v-9.6M905.80 1704.10v9.6M937.75 955.30v-9.6M937.75 1704.10v9.6M953.73 955.30v-9.6M953.73 1704.10v9.6M969.71 955.30v-9.6M969.71 1704.10v9.6M985.69 955.30v-9.6M985.69 1704.10v9.6M1001.67 955.30v-9.6M1001.67 1704.10v9.6M1033.63 955.30v-9.6M1033.63 1704.10v9.6M1049.61 955.30v-9.6M1049.61 1704.10v9.6M1065.59 955.30v-9.6M1065.59 1704.10v9.6M1081.57 955.30v-9.6M1081.57 1704.10v9.6M1097.55 955.30v-9.6M1097.55 1704.10v9.6M1129.50 955.30v-9.6M1129.50 1704.10v9.6M1145.48 955.30v-9.6M1145.48 1704.10v9.6M1161.46 955.30v-9.6M1161.46 1704.10v9.6M1177.44 955.30v-9.6M1177.44 1704.10v9.6M1193.42 955.30v-9.6M1193.42 1704.10v9.6M1225.38 955.30v-9.6M1225.38 1704.10v9.6M1241.36 955.30v-9.6M1241.36 1704.10v9.6M1257.34 955.30v-9.6M1257.34 1704.10v9.6M1273.32 955.30v-9.6M1273.32 1704.10v9.6M1289.30 955.30v-9.6M1289.30 1704.10v9.6M1321.25 955.30v-9.6M1321.25 1704.10v9.6M1337.23 955.30v-9.6M1337.23 1704.10v9.6M1353.21 955.30v-9.6M1353.21 1704.10v9.6M1369.19 955.30v-9.6M1369.19 1704.10v9.6M1385.17 955.30v-9.6M1385.17 1704.10v9.6M825.90 1685.38h-9.6M1401.15 1685.38h9.6M825.90 1666.66h-9.6M1401.15 1666.66h9.6M825.90 1647.94h-9.6M1401.15 1647.94h9.6M825.90 1629.22h-9.6M1401.15 1629.22h9.6M825.90 1610.50h-9.6M1401.15 1610.50h9.6M825.90 1591.78h-9.6M1401.15 1591.78h9.6M825.90 1573.06h-9.6M1401.15 1573.06h9.6M825.90 1554.34h-9.6M1401.15 1554.34h9.6M825.90 1535.62h-9.6M1401.15 1535.62h9.6M825.90 1498.18h-9.6M1401.15 1498.18h9.6M825.90 1479.46h-9.6M1401.15 1479.46h9.6M825.90 1460.74h-9.6M1401.15 1460.74h9.6M825.90 1442.02h-9.6M1401.15 1442.02h9.6M825.90 1423.30h-9.6M1401.15 1423.30h9.6M825.90 1404.58h-9.6M1401.15 1404.58h9.6M825.90 1385.86h-9.6M1401.15 1385.86h9.6M825.90 1367.14h-9.6M1401.15 1367.14h9.6M825.90 1348.42h-9.6M1401.15 1348.42h9.6M825.90 1310.98h-9.6M1401.15 1310.98h9.6M825.90 1292.26h-9.6M1401.15 1292.26h9.6M825.90 1273.54h-9.6M1401.15 1273.54h9.6M825.90 1254.82h-9.6M1401.15 1254.82h9.6M825.90 1236.10h-9.6M1401.15 1236.10h9.6M825.90 1217.38h-9.6M1401.15 1217.38h9.6M825.90 1198.66h-9.6M1401.15 1198.66h9.6M825.90 1179.94h-9.6M1401.15 1179.94h9.6M825.90 1161.22h-9.6M1401.15 1161.22h9.6M825.90 1123.78h-9.6M1401.15 1123.78h9.6M825.90 1105.06h-9.6M1401.15 1105.06h9.6M825.90 1086.34h-9.6M1401.15 1086.34h9.6M825.90 1067.62h-9.6M1401.15 1067.62h9.6M825.90 1048.90h-9.6M1401.15 1048.90h9.6M825.90 1030.18h-9.6M1401.15 1030.18h9.6M825.90 1011.46h-9.6M1401.15 1011.46h9.6M825.90 992.74h-9.6M1401.15 992.74h9.6M825.90 974.02h-9.6M1401.15 974.02h9.6" stroke="#000" stroke-width="3.05" fill="none"/>
<text transform="translate(794.40 1718.60) scale(1.0033 1)" x="-22.86" y="0"><tspan font-size="39.40" dy="0.00">0</tspan></text>
<text transform="translate(794.40 1531.40) scale(0.9819 1)" x="-47.61 -23.11" y="0"><tspan font-size="39.40" dy="0.00">10</tspan></text>
<text transform="translate(794.40 1344.20) scale(0.9856 1)" x="-47.78 -23.07" y="0"><tspan font-size="39.40" dy="0.00">20</tspan></text>
<text transform="translate(794.40 1157.00) scale(0.9835 1)" x="-47.30 -23.09" y="0"><tspan font-size="39.40" dy="0.00">30</tspan></text>
<text transform="translate(794.40 969.80) scale(1.0034 1)" x="-46.64 -22.85" y="0"><tspan font-size="39.40" dy="0.00">40</tspan></text>
<text transform="translate(825.90 1765.80) scale(0.9675 1)" x="-38.78 -7.21 17.45" y="0"><tspan font-size="48.30" dy="4.30">−</tspan><tspan font-size="39.40" dy="-4.30">55</tspan></text>
<text transform="translate(921.77 1765.80) scale(1.0120 1)" x="-37.69 -7.23 16.23" y="0"><tspan font-size="48.30" dy="4.30">−</tspan><tspan font-size="39.40" dy="-4.30">49</tspan></text>
<text transform="translate(1017.65 1765.80) scale(0.9902 1)" x="-38.21 -7.15 17.00" y="0"><tspan font-size="48.30" dy="4.30">−</tspan><tspan font-size="39.40" dy="-4.30">43</tspan></text>
<text transform="translate(1113.53 1765.80) scale(0.9832 1)" x="-38.38 -7.07 17.07" y="0"><tspan font-size="48.30" dy="4.30">−</tspan><tspan font-size="39.40" dy="-4.30">37</tspan></text>
<text transform="translate(1209.40 1765.80) scale(0.9766 1)" x="-38.55 -7.04 17.14" y="0"><tspan font-size="48.30" dy="4.30">−</tspan><tspan font-size="39.40" dy="-4.30">31</tspan></text>
<text transform="translate(1305.28 1765.80) scale(0.9738 1)" x="-38.62 -7.59 17.27" y="0"><tspan font-size="48.30" dy="4.30">−</tspan><tspan font-size="39.40" dy="-4.30">25</tspan></text>
<text transform="translate(1401.15 1765.80) scale(0.9993 1)" x="-37.99 -7.38 16.58" y="0"><tspan font-size="48.30" dy="4.30">−</tspan><tspan font-size="39.40" dy="-4.30">19</tspan></text>
<text transform="translate(1111.03 1820.30) scale(1.0127 1)" x="-162.92 -139.08 -115.08 -79.71 -56.72 -32.70 -20.24 5.15 18.69 43.21 57.19 79.46 90.90 108.10 120.39 149.42" y="0"><tspan font-size="39.40" dy="0.00">Temperature (</tspan><tspan font-size="28.50" dy="-5.70">°</tspan><tspan font-size="39.40" dy="5.70">C)</tspan></text>
<text transform="translate(825.70 927.70) scale(1.0280 1)" x="0.34" y="0"><tspan font-size="39.40" dy="0.00">e</tspan></text>
</g>
<g id="panel-f">
<path d="M1611.97 955.30V1704.10M1707.85 955.30V1704.10M1803.72 955.30V1704.10M1899.60 955.30V1704.10M1995.47 955.30V1704.10M1516.10 1516.90H2091.35M1516.10 1329.70H2091.35M1516.10 1142.50H2091.35" stroke="#b0b0b0" stroke-width="3.3" fill="none"/>
<g clip-path="url(#cpf)">
<rect x="1516.0" y="1008.6" width="14.0" height="23.8" rx="2.2" fill="#34a8fa"/>
<rect x="1526.7" y="1015.8" width="17.5" height="18.3" rx="2.2" fill="#379ffa"/>
<rect x="1524.5" y="1052.4" width="21.0" height="24.1" rx="2.2" fill="#33d5f9"/>
<rect x="1562.8" y="1043.6" width="15.0" height="18.3" rx="2.2" fill="#32acf9"/>
<rect x="1592.4" y="1039.5" width="21.1" height="25.0" rx="2.2" fill="#3596fa"/>
<rect x="1622.4" y="1054.1" width="14.7" height="18.3" rx="2.2" fill="#2f75fb"/>
<rect x="1654.4" y="1078.2" width="14.7" height="19.5" rx="2.2" fill="#3189fb"/>
<rect x="1666.8" y="1099.9" width="11.0" height="11.7" rx="2.2" fill="#379ffa"/>
<rect x="1710.3" y="1085.7" width="14.5" height="20.3" rx="2.2" fill="#2f65f9"/>
<rect x="1687.8" y="1108.5" width="10.7" height="19.6" rx="2.2" fill="#2f70fb"/>
<rect x="1686.5" y="1116.5" width="14.7" height="15.8" rx="2.2" fill="#307cfb"/>
<rect x="1696.8" y="1101.2" width="21.3" height="22.8" rx="2.2" fill="#3082fb"/>
<rect x="1516.0" y="1085.7" width="9.0" height="35.8" rx="2.2" fill="#30b2f9"/>
<rect x="1516.0" y="1093.2" width="19.8" height="21.6" rx="2.2" fill="#30b2f9"/>
<rect x="1525.0" y="1087.4" width="7.5" height="9.2" rx="2.2" fill="#5ae3f6"/>
<rect x="1535.0" y="1096.6" width="11.7" height="18.3" rx="2.2" fill="#46dcf8"/>
<rect x="1524.2" y="1113.2" width="15.0" height="12.5" rx="2.2" fill="#5ae3f6"/>
<rect x="1546.1" y="1119.0" width="21.0" height="30.8" rx="2.2" fill="#5ae3f6"/>
<rect x="1547.5" y="1146.5" width="10.8" height="14.2" rx="2.2" fill="#5ae3f6"/>
<rect x="1533.3" y="1140.7" width="15.3" height="22.0" rx="2.2" fill="#30b2f9"/>
<rect x="1562.4" y="1133.5" width="21.3" height="25.5" rx="2.2" fill="#2dc7f9"/>
<rect x="1583.8" y="1127.4" width="21.1" height="22.5" rx="2.2" fill="#4edff7"/>
<rect x="1591.9" y="1128.5" width="21.6" height="28.8" rx="2.2" fill="#32acf9"/>
<rect x="1608.2" y="1110.2" width="21.6" height="15.5" rx="2.2" fill="#30cef9"/>
<rect x="1621.2" y="1103.7" width="26.6" height="29.5" rx="2.2" fill="#30cef9"/>
<rect x="1637.4" y="1112.4" width="20.8" height="22.5" rx="2.2" fill="#30cef9"/>
<rect x="1660.3" y="1129.5" width="14.0" height="16.2" rx="2.2" fill="#31d0f9"/>
<rect x="1669.3" y="1141.5" width="14.7" height="20.0" rx="2.2" fill="#30b2f9"/>
<rect x="1628.2" y="1148.2" width="21.6" height="23.3" rx="2.2" fill="#52e0f7"/>
<rect x="1604.4" y="1144.0" width="21.3" height="26.6" rx="2.2" fill="#2eb9f9"/>
<rect x="1616.6" y="1144.5" width="22.1" height="22.0" rx="2.2" fill="#2cc4f9"/>
<rect x="1654.5" y="1168.2" width="21.5" height="24.1" rx="2.2" fill="#5ae3f6"/>
<rect x="1627.0" y="1178.1" width="15.0" height="16.3" rx="2.2" fill="#33d5f9"/>
<rect x="1565.3" y="1175.6" width="21.6" height="25.8" rx="2.2" fill="#5ae3f6"/>
<rect x="1567.4" y="1170.3" width="21.3" height="22.0" rx="2.2" fill="#2fb6f9"/>
<rect x="1595.7" y="1190.6" width="15.5" height="20.8" rx="2.2" fill="#5ae3f6"/>
<rect x="1626.6" y="1204.8" width="21.3" height="21.6" rx="2.2" fill="#3bd8f8"/>
<rect x="1623.2" y="1220.6" width="10.5" height="11.7" rx="2.2" fill="#3bd8f8"/>
<rect x="1692.7" y="1172.3" width="15.0" height="21.6" rx="2.2" fill="#2cc4f9"/>
<rect x="1703.6" y="1163.2" width="21.1" height="22.5" rx="2.2" fill="#33d5f9"/>
<rect x="1664.8" y="1222.6" width="21.1" height="27.6" rx="2.2" fill="#31d0f9"/>
<rect x="1681.5" y="1223.1" width="21.3" height="23.0" rx="2.2" fill="#52e0f7"/>
<rect x="1697.3" y="1225.3" width="15.0" height="14.5" rx="2.2" fill="#43dbf8"/>
<rect x="1707.6" y="1234.4" width="15.2" height="17.8" rx="2.2" fill="#46dcf8"/>
<rect x="1722.3" y="1193.5" width="15.0" height="26.0" rx="2.2" fill="#2f70fb"/>
<rect x="1744.8" y="1181.5" width="21.3" height="35.3" rx="2.2" fill="#2f6cfa"/>
<rect x="1736.4" y="1197.3" width="20.0" height="32.1" rx="2.2" fill="#307ffb"/>
<rect x="1722.3" y="1223.1" width="20.0" height="22.5" rx="2.2" fill="#34a8fa"/>
<rect x="1767.6" y="1205.3" width="21.3" height="32.8" rx="2.2" fill="#307cfb"/>
<rect x="1774.2" y="1196.5" width="14.7" height="15.8" rx="2.2" fill="#30b2f9"/>
<rect x="1758.1" y="1229.8" width="21.6" height="25.8" rx="2.2" fill="#46dcf8"/>
<rect x="1769.7" y="1242.2" width="14.7" height="24.1" rx="2.2" fill="#4edff7"/>
<rect x="1781.4" y="1242.2" width="21.6" height="25.0" rx="2.2" fill="#33d5f9"/>
<rect x="1779.7" y="1248.1" width="15.0" height="15.0" rx="2.2" fill="#30b2f9"/>
<rect x="1787.2" y="1264.7" width="10.8" height="18.3" rx="2.2" fill="#2cc4f9"/>
<rect x="1756.2" y="1292.4" width="21.8" height="39.1" rx="2.2" fill="#307ffb"/>
<rect x="1821.6" y="1228.3" width="15.0" height="16.7" rx="2.2" fill="#2cc4f9"/>
<rect x="1819.9" y="1256.1" width="21.1" height="34.6" rx="2.2" fill="#2dc7f9"/>
<rect x="1814.4" y="1301.6" width="21.3" height="30.0" rx="2.2" fill="#30ccf9"/>
<rect x="1824.9" y="1290.7" width="15.0" height="17.5" rx="2.2" fill="#33d5f9"/>
<rect x="1835.7" y="1288.2" width="10.8" height="18.3" rx="2.2" fill="#4addf7"/>
<rect x="1839.9" y="1293.2" width="15.0" height="16.7" rx="2.2" fill="#4addf7"/>
<rect x="1852.4" y="1294.9" width="21.3" height="22.1" rx="2.2" fill="#46dcf8"/>
<rect x="1875.2" y="1275.8" width="21.0" height="30.0" rx="2.2" fill="#33d5f9"/>
<rect x="1878.2" y="1299.9" width="15.0" height="11.7" rx="2.2" fill="#33d5f9"/>
<rect x="1863.2" y="1321.0" width="14.7" height="21.3" rx="2.2" fill="#2cc4f9"/>
<rect x="1880.4" y="1311.2" width="21.1" height="30.0" rx="2.2" fill="#379ffa"/>
<rect x="1898.2" y="1264.6" width="15.0" height="59.4" rx="2.2" fill="#3189fb"/>
<rect x="1902.3" y="1296.6" width="9.2" height="27.5" rx="2.2" fill="#2f70fb"/>
<rect x="1909.8" y="1318.2" width="7.5" height="5.8" rx="2.2" fill="#2f70fb"/>
<rect x="1911.5" y="1278.3" width="21.3" height="70.4" rx="2.2" fill="#34a7fa"/>
<rect x="1959.4" y="1281.9" width="20.6" height="35.5" rx="2.2" fill="#1b19e4"/>
<rect x="1953.5" y="1309.4" width="18.8" height="21.0" rx="2.2" fill="#34a8fa"/>
<rect x="1939.3" y="1338.5" width="22.1" height="54.6" rx="2.2" fill="#2f70fb"/>
<rect x="1947.6" y="1320.4" width="15.2" height="37.0" rx="2.2" fill="#2f61f8"/>
<rect x="1959.8" y="1348.7" width="10.8" height="62.8" rx="2.2" fill="#3494fa"/>
<rect x="1945.6" y="1349.9" width="21.6" height="35.0" rx="2.2" fill="#2ebdf9"/>
<rect x="1938.6" y="1391.5" width="21.1" height="21.6" rx="2.2" fill="#30ccf9"/>
<rect x="1944.5" y="1408.1" width="15.0" height="17.8" rx="2.2" fill="#2dbff9"/>
<rect x="1948.1" y="1394.0" width="13.3" height="15.0" rx="2.2" fill="#2f65f9"/>
<rect x="1959.8" y="1399.8" width="10.5" height="11.7" rx="2.2" fill="#3189fb"/>
<rect x="1975.6" y="1348.2" width="21.3" height="43.3" rx="2.2" fill="#2cc4f9"/>
<rect x="1968.1" y="1389.8" width="30.8" height="17.5" rx="2.2" fill="#32d2f9"/>
<rect x="1986.4" y="1388.1" width="13.3" height="21.6" rx="2.2" fill="#32d2f9"/>
<rect x="1993.1" y="1411.5" width="10.8" height="12.5" rx="2.2" fill="#3bd8f8"/>
<rect x="1980.9" y="1331.5" width="11.0" height="12.5" rx="2.2" fill="#35a5fa"/>
<rect x="2013.9" y="1332.7" width="14.7" height="26.0" rx="2.2" fill="#369bfa"/>
<rect x="2022.6" y="1363.2" width="21.3" height="30.0" rx="2.2" fill="#36a3fa"/>
<rect x="2013.6" y="1405.3" width="19.5" height="19.5" rx="2.2" fill="#2fcbf9"/>
<rect x="2021.4" y="1391.5" width="21.6" height="30.8" rx="2.2" fill="#3494fa"/>
<rect x="1846.6" y="1352.3" width="14.7" height="32.1" rx="2.2" fill="#2f5af7"/>
<rect x="1864.0" y="1371.5" width="15.8" height="24.6" rx="2.2" fill="#33d5f9"/>
<rect x="1893.2" y="1366.0" width="15.5" height="40.0" rx="2.2" fill="#2b3cf3"/>
<rect x="1880.4" y="1367.0" width="12.8" height="30.8" rx="2.2" fill="#31aef9"/>
<rect x="1880.4" y="1373.2" width="17.8" height="20.8" rx="2.2" fill="#31aef9"/>
<rect x="1915.7" y="1366.0" width="14.2" height="24.6" rx="2.2" fill="#2ebdf9"/>
<rect x="1924.8" y="1361.0" width="15.0" height="21.3" rx="2.2" fill="#30b2f9"/>
<rect x="2044.1" y="1464.1" width="11.9" height="19.5" rx="2.2" fill="#35a5fa"/>
<rect x="2038.2" y="1501.2" width="18.9" height="26.8" rx="2.2" fill="#379ffa"/>
</g>
<rect x="1534.40" y="1619.90" width="209.07" height="64.30" rx="8" fill="#fff" fill-opacity="0.8" stroke="#ccc" stroke-opacity="0.8" stroke-width="4.1"/>
<rect x="1578.00" y="1642.60" width="18.4" height="18.4" rx="2.5" fill="#1f77b4"/>
<text transform="translate(1654.30 1661.60) scale(0.9722 1)" x="0.04 27.50 52.23" y="0"><tspan font-size="39.40" dy="0.00">A10</tspan></text>
<rect x="1516.10" y="955.30" width="575.25" height="748.80" fill="none" stroke="#000" stroke-width="3.45"/>
<path d="M1516.10 955.30v-16.7M1516.10 1704.10v16.7M1611.97 955.30v-16.7M1611.97 1704.10v16.7M1707.85 955.30v-16.7M1707.85 1704.10v16.7M1803.72 955.30v-16.7M1803.72 1704.10v16.7M1899.60 955.30v-16.7M1899.60 1704.10v16.7M1995.47 955.30v-16.7M1995.47 1704.10v16.7M2091.35 955.30v-16.7M2091.35 1704.10v16.7M1516.10 1704.10h-16.7M2091.35 1704.10h16.7M1516.10 1516.90h-16.7M2091.35 1516.90h16.7M1516.10 1329.70h-16.7M2091.35 1329.70h16.7M1516.10 1142.50h-16.7M2091.35 1142.50h16.7M1516.10 955.30h-16.7M2091.35 955.30h16.7" stroke="#000" stroke-width="3.45" fill="none"/>
<path d="M1532.08 955.30v-9.6M1532.08 1704.10v9.6M1548.06 955.30v-9.6M1548.06 1704.10v9.6M1564.04 955.30v-9.6M1564.04 1704.10v9.6M1580.02 955.30v-9.6M1580.02 1704.10v9.6M1596.00 955.30v-9.6M1596.00 1704.10v9.6M1627.95 955.30v-9.6M1627.95 1704.10v9.6M1643.93 955.30v-9.6M1643.93 1704.10v9.6M1659.91 955.30v-9.6M1659.91 1704.10v9.6M1675.89 955.30v-9.6M1675.89 1704.10v9.6M1691.87 955.30v-9.6M1691.87 1704.10v9.6M1723.83 955.30v-9.6M1723.83 1704.10v9.6M1739.81 955.30v-9.6M1739.81 1704.10v9.6M1755.79 955.30v-9.6M1755.79 1704.10v9.6M1771.77 955.30v-9.6M1771.77 1704.10v9.6M1787.75 955.30v-9.6M1787.75 1704.10v9.6M1819.70 955.30v-9.6M1819.70 1704.10v9.6M1835.68 955.30v-9.6M1835.68 1704.10v9.6M1851.66 955.30v-9.6M1851.66 1704.10v9.6M1867.64 955.30v-9.6M1867.64 1704.10v9.6M1883.62 955.30v-9.6M1883.62 1704.10v9.6M1915.58 955.30v-9.6M1915.58 1704.10v9.6M1931.56 955.30v-9.6M1931.56 1704.10v9.6M1947.54 955.30v-9.6M1947.54 1704.10v9.6M1963.52 955.30v-9.6M1963.52 1704.10v9.6M1979.50 955.30v-9.6M1979.50 1704.10v9.6M2011.45 955.30v-9.6M2011.45 1704.10v9.6M2027.43 955.30v-9.6M2027.43 1704.10v9.6M2043.41 955.30v-9.6M2043.41 1704.10v9.6M2059.39 955.30v-9.6M2059.39 1704.10v9.6M2075.37 955.30v-9.6M2075.37 1704.10v9.6M1516.10 1685.38h-9.6M2091.35 1685.38h9.6M1516.10 1666.66h-9.6M2091.35 1666.66h9.6M1516.10 1647.94h-9.6M2091.35 1647.94h9.6M1516.10 1629.22h-9.6M2091.35 1629.22h9.6M1516.10 1610.50h-9.6M2091.35 1610.50h9.6M1516.10 1591.78h-9.6M2091.35 1591.78h9.6M1516.10 1573.06h-9.6M2091.35 1573.06h9.6M1516.10 1554.34h-9.6M2091.35 1554.34h9.6M1516.10 1535.62h-9.6M2091.35 1535.62h9.6M1516.10 1498.18h-9.6M2091.35 1498.18h9.6M1516.10 1479.46h-9.6M2091.35 1479.46h9.6M1516.10 1460.74h-9.6M2091.35 1460.74h9.6M1516.10 1442.02h-9.6M2091.35 1442.02h9.6M1516.10 1423.30h-9.6M2091.35 1423.30h9.6M1516.10 1404.58h-9.6M2091.35 1404.58h9.6M1516.10 1385.86h-9.6M2091.35 1385.86h9.6M1516.10 1367.14h-9.6M2091.35 1367.14h9.6M1516.10 1348.42h-9.6M2091.35 1348.42h9.6M1516.10 1310.98h-9.6M2091.35 1310.98h9.6M1516.10 1292.26h-9.6M2091.35 1292.26h9.6M1516.10 1273.54h-9.6M2091.35 1273.54h9.6M1516.10 1254.82h-9.6M2091.35 1254.82h9.6M1516.10 1236.10h-9.6M2091.35 1236.10h9.6M1516.10 1217.38h-9.6M2091.35 1217.38h9.6M1516.10 1198.66h-9.6M2091.35 1198.66h9.6M1516.10 1179.94h-9.6M2091.35 1179.94h9.6M1516.10 1161.22h-9.6M2091.35 1161.22h9.6M1516.10 1123.78h-9.6M2091.35 1123.78h9.6M1516.10 1105.06h-9.6M2091.35 1105.06h9.6M1516.10 1086.34h-9.6M2091.35 1086.34h9.6M1516.10 1067.62h-9.6M2091.35 1067.62h9.6M1516.10 1048.90h-9.6M2091.35 1048.90h9.6M1516.10 1030.18h-9.6M2091.35 1030.18h9.6M1516.10 1011.46h-9.6M2091.35 1011.46h9.6M1516.10 992.74h-9.6M2091.35 992.74h9.6M1516.10 974.02h-9.6M2091.35 974.02h9.6" stroke="#000" stroke-width="3.05" fill="none"/>
<text transform="translate(1484.60 1718.60) scale(1.0033 1)" x="-22.86" y="0"><tspan font-size="39.40" dy="0.00">0</tspan></text>
<text transform="translate(1484.60 1531.40) scale(0.9819 1)" x="-47.61 -23.11" y="0"><tspan font-size="39.40" dy="0.00">10</tspan></text>
<text transform="translate(1484.60 1344.20) scale(0.9856 1)" x="-47.78 -23.07" y="0"><tspan font-size="39.40" dy="0.00">20</tspan></text>
<text transform="translate(1484.60 1157.00) scale(0.9835 1)" x="-47.30 -23.09" y="0"><tspan font-size="39.40" dy="0.00">30</tspan></text>
<text transform="translate(1484.60 969.80) scale(1.0034 1)" x="-46.64 -22.85" y="0"><tspan font-size="39.40" dy="0.00">40</tspan></text>
<text transform="translate(1516.10 1765.80) scale(0.9675 1)" x="-38.78 -7.21 17.45" y="0"><tspan font-size="48.30" dy="4.30">−</tspan><tspan font-size="39.40" dy="-4.30">55</tspan></text>
<text transform="translate(1611.97 1765.80) scale(1.0120 1)" x="-37.69 -7.23 16.23" y="0"><tspan font-size="48.30" dy="4.30">−</tspan><tspan font-size="39.40" dy="-4.30">49</tspan></text>
<text transform="translate(1707.85 1765.80) scale(0.9902 1)" x="-38.21 -7.15 17.00" y="0"><tspan font-size="48.30" dy="4.30">−</tspan><tspan font-size="39.40" dy="-4.30">43</tspan></text>
<text transform="translate(1803.72 1765.80) scale(0.9832 1)" x="-38.38 -7.07 17.07" y="0"><tspan font-size="48.30" dy="4.30">−</tspan><tspan font-size="39.40" dy="-4.30">37</tspan></text>
<text transform="translate(1899.60 1765.80) scale(0.9766 1)" x="-38.55 -7.04 17.14" y="0"><tspan font-size="48.30" dy="4.30">−</tspan><tspan font-size="39.40" dy="-4.30">31</tspan></text>
<text transform="translate(1995.47 1765.80) scale(0.9738 1)" x="-38.62 -7.59 17.27" y="0"><tspan font-size="48.30" dy="4.30">−</tspan><tspan font-size="39.40" dy="-4.30">25</tspan></text>
<text transform="translate(2091.35 1765.80) scale(0.9993 1)" x="-37.99 -7.38 16.58" y="0"><tspan font-size="48.30" dy="4.30">−</tspan><tspan font-size="39.40" dy="-4.30">19</tspan></text>
<text transform="translate(1801.22 1820.30) scale(1.0127 1)" x="-162.92 -139.08 -115.08 -79.71 -56.72 -32.70 -20.24 5.15 18.69 43.21 57.19 79.46 90.90 108.10 120.39 149.42" y="0"><tspan font-size="39.40" dy="0.00">Temperature (</tspan><tspan font-size="28.50" dy="-5.70">°</tspan><tspan font-size="39.40" dy="5.70">C)</tspan></text>
<text transform="translate(1515.90 927.70) scale(1.2498 1)" x="0.13" y="0"><tspan font-size="39.40" dy="0.00">f</tspan></text>
</g>
<text transform="translate(52.20 430.90) rotate(-90) scale(1.0343 1)" x="-286.33 -258.07 -235.05 -212.53 -188.94 -175.59 -163.70 -140.42 -117.93 -105.05 -71.08 -58.19 -46.11 -35.16 -21.20 1.17 11.45 35.59 46.54 59.89 71.09 91.50 114.15 138.05 151.00 173.65 197.55 210.23 221.27 237.25 272.74" y="0"><tspan font-size="39.40" dy="0.00">Upper 10 m firn air content (m)</tspan></text>
<text transform="translate(28.50 1329.70) rotate(-90) scale(1.0379 1)" x="-285.39 -257.21 -234.28 -211.83 -188.31 -174.98 -162.97 -139.98 -117.52 -104.75 -70.84 -58.01 -45.97 -35.06 -21.16 1.16 11.37 35.45 46.36 59.69 70.81 91.14 113.71 137.55 150.44 173.01 196.85 209.51 220.48 236.37 271.78" y="0"><tspan font-size="39.40" dy="0.00">Upper 60 m firn air content (m)</tspan></text>
<rect x="135.60" y="2057.00" width="130.98" height="98.10" fill="#9ff7f7"/>
<rect x="265.98" y="2057.00" width="130.98" height="98.10" fill="#66ebf8"/>
<rect x="396.37" y="2057.00" width="130.98" height="98.10" fill="#33dafb"/>
<rect x="526.75" y="2057.00" width="130.98" height="98.10" fill="#2bc5f9"/>
<rect x="657.13" y="2057.00" width="130.98" height="98.10" fill="#33aefa"/>
<rect x="787.52" y="2057.00" width="130.98" height="98.10" fill="#3399fb"/>
<rect x="917.90" y="2057.00" width="130.98" height="98.10" fill="#3385fc"/>
<rect x="1048.28" y="2057.00" width="130.98" height="98.10" fill="#2e6cfc"/>
<rect x="1178.67" y="2057.00" width="130.98" height="98.10" fill="#2f52f6"/>
<rect x="1309.05" y="2057.00" width="130.98" height="98.10" fill="#2b34f3"/>
<rect x="1439.43" y="2057.00" width="130.98" height="98.10" fill="#1d1de6"/>
<rect x="1569.82" y="2057.00" width="130.98" height="98.10" fill="#0b0ed2"/>
<rect x="1700.20" y="2057.00" width="130.98" height="98.10" fill="#1004a8"/>
<rect x="1830.58" y="2057.00" width="130.98" height="98.10" fill="#0e0680"/>
<rect x="1960.97" y="2057.00" width="130.98" height="98.10" fill="#050457"/>
<rect x="135.60" y="2057.00" width="1955.75" height="98.10" fill="none" stroke="#000" stroke-width="3.45"/>
<text transform="translate(135.60 2216.80) scale(1.0057 1)" x="-28.75 -5.49 6.82" y="0"><tspan font-size="39.40" dy="0.00">0.0</tspan></text>
<text transform="translate(265.98 2216.80) scale(0.9865 1)" x="-29.10 -5.49 6.97" y="0"><tspan font-size="39.40" dy="0.00">0.1</tspan></text>
<text transform="translate(396.37 2216.80) scale(0.9897 1)" x="-29.04 -5.49 6.61" y="0"><tspan font-size="39.40" dy="0.00">0.2</tspan></text>
<text transform="translate(526.75 2216.80) scale(0.9877 1)" x="-29.08 -5.49 7.20" y="0"><tspan font-size="39.40" dy="0.00">0.3</tspan></text>
<text transform="translate(657.13 2216.80) scale(1.0057 1)" x="-28.75 -5.49 6.82" y="0"><tspan font-size="39.40" dy="0.00">0.4</tspan></text>
<text transform="translate(787.52 2216.80) scale(0.9802 1)" x="-29.22 -5.49 7.14" y="0"><tspan font-size="39.40" dy="0.00">0.5</tspan></text>
<text transform="translate(917.90 2216.80) scale(1.0214 1)" x="-28.48 -5.49 6.55" y="0"><tspan font-size="39.40" dy="0.00">0.6</tspan></text>
<text transform="translate(1048.28 2216.80) scale(0.9961 1)" x="-28.93 -5.49 6.92" y="0"><tspan font-size="39.40" dy="0.00">0.7</tspan></text>
<text transform="translate(1178.67 2216.80) scale(1.0106 1)" x="-28.67 -5.49 6.74" y="0"><tspan font-size="39.40" dy="0.00">0.8</tspan></text>
<text transform="translate(1309.05 2216.80) scale(1.0205 1)" x="-28.50 -5.49 6.45" y="0"><tspan font-size="39.40" dy="0.00">0.9</tspan></text>
<text transform="translate(1439.43 2216.80) scale(0.9865 1)" x="-29.30 -5.49 7.17" y="0"><tspan font-size="39.40" dy="0.00">1.0</tspan></text>
<text transform="translate(1569.82 2216.80) scale(0.9654 1)" x="-29.68 -5.49 7.38" y="0"><tspan font-size="39.40" dy="0.00">1.1</tspan></text>
<text transform="translate(1700.20 2216.80) scale(0.9693 1)" x="-29.61 -5.49 6.98" y="0"><tspan font-size="39.40" dy="0.00">1.2</tspan></text>
<text transform="translate(1830.58 2216.80) scale(0.9676 1)" x="-29.64 -5.49 7.57" y="0"><tspan font-size="39.40" dy="0.00">1.3</tspan></text>
<text transform="translate(1960.97 2216.80) scale(0.9870 1)" x="-29.29 -5.49 7.16" y="0"><tspan font-size="39.40" dy="0.00">1.4</tspan></text>
<text transform="translate(2091.35 2216.80) scale(0.9597 1)" x="-29.79 -5.49 7.52" y="0"><tspan font-size="39.40" dy="0.00">1.5</tspan></text>
<path d="M135.60 2155.10v16.4M265.98 2155.10v16.4M396.37 2155.10v16.4M526.75 2155.10v16.4M657.13 2155.10v16.4M787.52 2155.10v16.4M917.90 2155.10v16.4M1048.28 2155.10v16.4M1178.67 2155.10v16.4M1309.05 2155.10v16.4M1439.43 2155.10v16.4M1569.82 2155.10v16.4M1700.20 2155.10v16.4M1830.58 2155.10v16.4M1960.97 2155.10v16.4M2091.35 2155.10v16.4" stroke="#000" stroke-width="3.45" fill="none"/>
<text transform="translate(1113.47 2275.00) scale(0.9773 1)" x="-339.08 -305.21 -283.15 -257.72 -234.69 -223.12 -197.69 -173.37 -149.22 -126.65 -101.55 -91.85 -79.24 -58.37 -34.55 -10.42 21.30 32.40 57.50 68.16 77.86 89.99 107.41 142.41 156.05 186.60 199.11 222.40 233.99 247.68 270.99 286.04 307.91 326.19" y="0"><tspan font-size="39.40" dy="0.00">Mean annual snowfall (m w.e. yr</tspan><tspan font-size="33.81" dy="-8.89">−</tspan><tspan font-size="27.58" dy="-3.01">1</tspan><tspan font-size="39.40" dy="11.90">)</tspan></text>
</svg>
</body></html>
